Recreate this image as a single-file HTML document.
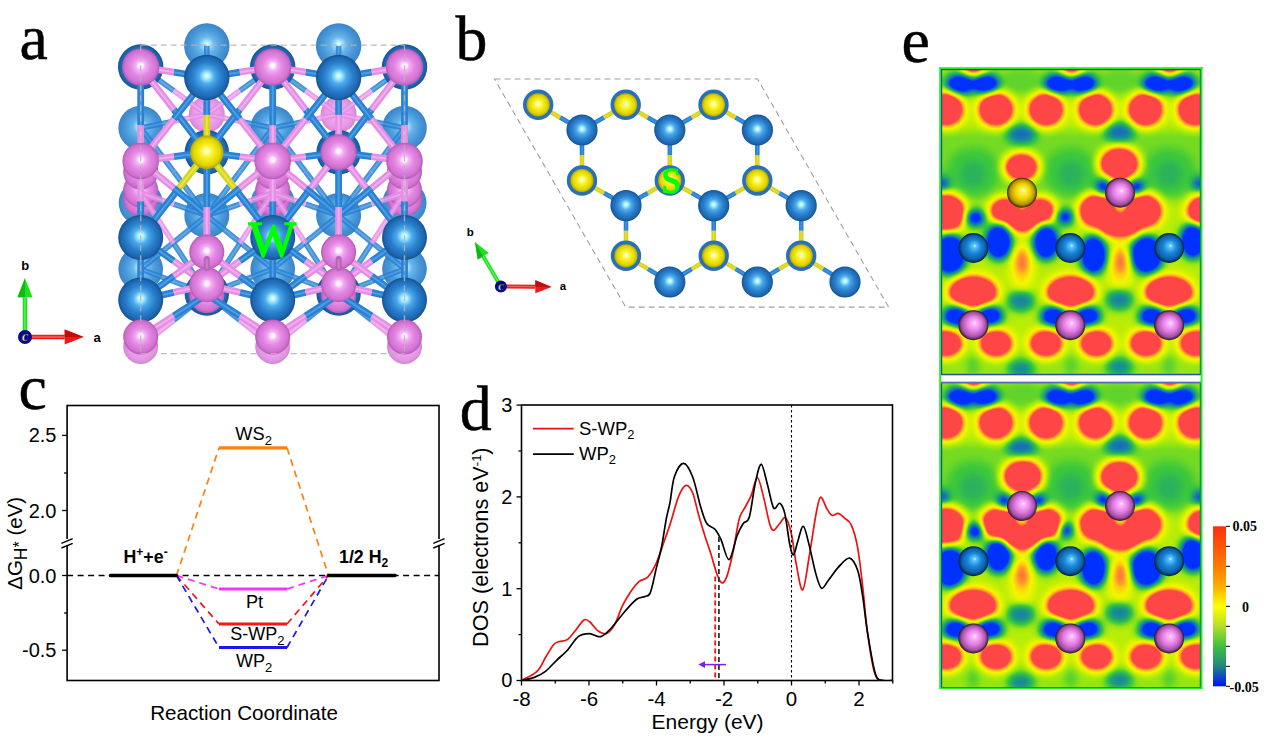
<!DOCTYPE html>
<html><head><meta charset="utf-8"><title>Figure</title>
<style>
html,body{margin:0;padding:0;background:#fff;width:1268px;height:741px;overflow:hidden;}
svg{display:block;}
</style></head><body>
<svg width="1268" height="741" viewBox="0 0 1268 741" font-family='"Liberation Sans", sans-serif'>
<defs><radialGradient id="gB" cx="0.5" cy="0.5" r="0.5" fx="0.50" fy="0.46"><stop offset="0.00" stop-color="#f4ffff"/><stop offset="0.13" stop-color="#aaf0ff"/><stop offset="0.34" stop-color="#4caaec"/><stop offset="0.62" stop-color="#2a80cc"/><stop offset="0.88" stop-color="#1d66b0"/><stop offset="1.00" stop-color="#14518e"/></radialGradient><radialGradient id="gBb" cx="0.5" cy="0.5" r="0.5" fx="0.50" fy="0.46"><stop offset="0.00" stop-color="#f0ffff"/><stop offset="0.12" stop-color="#b4ecff"/><stop offset="0.35" stop-color="#6ab6ec"/><stop offset="0.70" stop-color="#4898d8"/><stop offset="1.00" stop-color="#3a84c8"/></radialGradient><radialGradient id="gP" cx="0.5" cy="0.5" r="0.5" fx="0.50" fy="0.46"><stop offset="0.00" stop-color="#ffffff"/><stop offset="0.11" stop-color="#fff2ff"/><stop offset="0.26" stop-color="#f4b0f4"/><stop offset="0.52" stop-color="#e488e4"/><stop offset="0.85" stop-color="#d272d2"/><stop offset="1.00" stop-color="#b45ab4"/></radialGradient><radialGradient id="gPb" cx="0.5" cy="0.5" r="0.5" fx="0.50" fy="0.46"><stop offset="0.00" stop-color="#ffffff"/><stop offset="0.14" stop-color="#fde6fd"/><stop offset="0.40" stop-color="#f0a8f0"/><stop offset="0.80" stop-color="#e496e4"/><stop offset="1.00" stop-color="#d286d2"/></radialGradient><radialGradient id="gY" cx="0.5" cy="0.5" r="0.5" fx="0.50" fy="0.46"><stop offset="0.00" stop-color="#ffffff"/><stop offset="0.12" stop-color="#ffffa8"/><stop offset="0.40" stop-color="#f8f022"/><stop offset="0.80" stop-color="#e0d400"/><stop offset="1.00" stop-color="#b4a600"/></radialGradient><radialGradient id="mB" cx="0.5" cy="0.5" r="0.5" fx="0.55" fy="0.42"><stop offset="0.00" stop-color="#e8ffff"/><stop offset="0.10" stop-color="#60c8ff"/><stop offset="0.45" stop-color="#1a86d8"/><stop offset="0.80" stop-color="#0c5ea8"/><stop offset="1.00" stop-color="#02203a"/></radialGradient><radialGradient id="mP" cx="0.5" cy="0.5" r="0.5" fx="0.55" fy="0.42"><stop offset="0.00" stop-color="#ffffff"/><stop offset="0.12" stop-color="#ffb8ff"/><stop offset="0.50" stop-color="#e47ce4"/><stop offset="0.82" stop-color="#a050a0"/><stop offset="1.00" stop-color="#301030"/></radialGradient><radialGradient id="mY" cx="0.5" cy="0.5" r="0.5" fx="0.55" fy="0.42"><stop offset="0.00" stop-color="#ffffe8"/><stop offset="0.12" stop-color="#fff460"/><stop offset="0.50" stop-color="#f0d400"/><stop offset="0.82" stop-color="#b49400"/><stop offset="1.00" stop-color="#302600"/></radialGradient></defs><text x="19.4" y="58.5" font-family='"Liberation Serif", serif' font-size="63.8" fill="#000" stroke="#000" stroke-width="0.5">a</text><text x="455.6" y="59.5" font-family='"Liberation Serif", serif' font-size="63.8" fill="#000" stroke="#000" stroke-width="0.5">b</text><text x="18.6" y="409.3" font-family='"Liberation Serif", serif' font-size="63.8" fill="#000" stroke="#000" stroke-width="0.5">c</text><text x="459.8" y="429.5" font-family='"Liberation Serif", serif' font-size="63.8" fill="#000" stroke="#000" stroke-width="0.5">d</text><text x="901.6" y="61.7" font-family='"Liberation Serif", serif' font-size="63.8" fill="#000" stroke="#000" stroke-width="0.5">e</text><rect x="67.1" y="405.5" width="371.9" height="275.0" fill="none" stroke="#000" stroke-width="1.6"/><rect x="64.1" y="539" width="6" height="7" fill="#fff"/><line x1="61.39999999999999" y1="543.4" x2="72.69999999999999" y2="538.7" stroke="#000" stroke-width="1.4"/><line x1="61.39999999999999" y1="548.0" x2="72.69999999999999" y2="543.4" stroke="#000" stroke-width="1.4"/><rect x="436" y="539" width="6" height="7" fill="#fff"/><line x1="433.3" y1="543.4" x2="444.6" y2="538.7" stroke="#000" stroke-width="1.4"/><line x1="433.3" y1="548.0" x2="444.6" y2="543.4" stroke="#000" stroke-width="1.4"/><line x1="62.099999999999994" y1="435.4" x2="67.1" y2="435.4" stroke="#000" stroke-width="1.3"/><text x="56.5" y="442.4" text-anchor="end" font-family='"Liberation Sans", sans-serif' font-size="20" fill="#000">2.5</text><line x1="62.099999999999994" y1="510.5" x2="67.1" y2="510.5" stroke="#000" stroke-width="1.3"/><text x="56.5" y="517.5" text-anchor="end" font-family='"Liberation Sans", sans-serif' font-size="20" fill="#000">2.0</text><line x1="62.099999999999994" y1="575.5" x2="67.1" y2="575.5" stroke="#000" stroke-width="1.3"/><text x="56.5" y="582.5" text-anchor="end" font-family='"Liberation Sans", sans-serif' font-size="20" fill="#000">0.0</text><line x1="62.099999999999994" y1="650.2" x2="67.1" y2="650.2" stroke="#000" stroke-width="1.3"/><text x="56.5" y="657.2" text-anchor="end" font-family='"Liberation Sans", sans-serif' font-size="20" fill="#000">-0.5</text><line x1="64.1" y1="473.0" x2="67.1" y2="473.0" stroke="#000" stroke-width="1.3"/><line x1="64.1" y1="613.0" x2="67.1" y2="613.0" stroke="#000" stroke-width="1.3"/><line x1="67.1" y1="575.5" x2="439" y2="575.5" stroke="#000" stroke-width="1.3" stroke-dasharray="6,4.5"/><path d="M176.5,575.5 L219,447.8 M287,447.8 L328.5,575.5" fill="none" stroke="#ff8010" stroke-width="1.7" stroke-dasharray="7,5"/><line x1="219" y1="447.8" x2="287" y2="447.8" stroke="#ff8010" stroke-width="3.2"/><path d="M176.5,575.5 L219,589.0 M287,589.0 L328.5,575.5" fill="none" stroke="#f535f5" stroke-width="1.7" stroke-dasharray="7,5"/><line x1="219" y1="589.0" x2="287" y2="589.0" stroke="#f535f5" stroke-width="3.2"/><path d="M176.5,575.5 L219,624.0 M287,624.0 L328.5,575.5" fill="none" stroke="#f01818" stroke-width="1.7" stroke-dasharray="7,5"/><line x1="219" y1="624.0" x2="287" y2="624.0" stroke="#f01818" stroke-width="3.2"/><path d="M176.5,575.5 L219,647.5 M287,647.5 L328.5,575.5" fill="none" stroke="#1818f0" stroke-width="1.7" stroke-dasharray="7,5"/><line x1="219" y1="647.5" x2="287" y2="647.5" stroke="#1818f0" stroke-width="3.2"/><line x1="110.5" y1="575.5" x2="176.5" y2="575.5" stroke="#000" stroke-width="3.4" stroke-linecap="round"/><line x1="328.5" y1="575.5" x2="395" y2="575.5" stroke="#000" stroke-width="3.4" stroke-linecap="round"/><text x="253.6" y="440" text-anchor="middle" font-family='"Liberation Sans", sans-serif' font-size="18.2">WS<tspan font-size="13" dy="4.5">2</tspan></text><text x="254.5" y="607.5" text-anchor="middle" font-family='"Liberation Sans", sans-serif' font-size="18.2">Pt</text><text x="257.3" y="639.6" text-anchor="middle" font-family='"Liberation Sans", sans-serif' font-size="18">S-WP<tspan font-size="13" dy="5">2</tspan></text><text x="254.2" y="667.4" text-anchor="middle" font-family='"Liberation Sans", sans-serif' font-size="18">WP<tspan font-size="13" dy="5">2</tspan></text><text x="123.5" y="563.3" font-family='"Liberation Sans", sans-serif' font-size="17.8" font-weight="bold">H<tspan font-size="12" dy="-7">+</tspan><tspan dy="7">+e</tspan><tspan font-size="12" dy="-7">-</tspan></text><text x="339" y="562.5" font-family='"Liberation Sans", sans-serif' font-size="17.8" font-weight="bold">1/2 H<tspan font-size="12" dy="4">2</tspan></text><text x="244" y="719.5" text-anchor="middle" font-family='"Liberation Sans", sans-serif' font-size="20.6">Reaction Coordinate</text><text transform="translate(22,543.3) rotate(-90)" text-anchor="middle" font-family='"Liberation Sans", sans-serif' font-size="20.5">&#916;G<tspan font-size="17.5" dy="5">H</tspan><tspan font-size="16" dy="-2">*</tspan><tspan dy="-3"> (eV)</tspan></text><rect x="521.5" y="405.0" width="371.0" height="275.5" fill="none" stroke="#000" stroke-width="1.6"/><line x1="521.50" y1="680.5" x2="521.50" y2="685.5" stroke="#000" stroke-width="1.3"/><text x="521.50" y="706.4" text-anchor="middle" font-family='"Liberation Sans", sans-serif' font-size="20.5">-8</text><line x1="555.25" y1="680.5" x2="555.25" y2="683.5" stroke="#000" stroke-width="1.3"/><line x1="589.00" y1="680.5" x2="589.00" y2="685.5" stroke="#000" stroke-width="1.3"/><text x="589.00" y="706.4" text-anchor="middle" font-family='"Liberation Sans", sans-serif' font-size="20.5">-6</text><line x1="622.75" y1="680.5" x2="622.75" y2="683.5" stroke="#000" stroke-width="1.3"/><line x1="656.50" y1="680.5" x2="656.50" y2="685.5" stroke="#000" stroke-width="1.3"/><text x="656.50" y="706.4" text-anchor="middle" font-family='"Liberation Sans", sans-serif' font-size="20.5">-4</text><line x1="690.25" y1="680.5" x2="690.25" y2="683.5" stroke="#000" stroke-width="1.3"/><line x1="724.00" y1="680.5" x2="724.00" y2="685.5" stroke="#000" stroke-width="1.3"/><text x="724.00" y="706.4" text-anchor="middle" font-family='"Liberation Sans", sans-serif' font-size="20.5">-2</text><line x1="757.75" y1="680.5" x2="757.75" y2="683.5" stroke="#000" stroke-width="1.3"/><line x1="791.50" y1="680.5" x2="791.50" y2="685.5" stroke="#000" stroke-width="1.3"/><text x="791.50" y="706.4" text-anchor="middle" font-family='"Liberation Sans", sans-serif' font-size="20.5">0</text><line x1="825.25" y1="680.5" x2="825.25" y2="683.5" stroke="#000" stroke-width="1.3"/><line x1="859.00" y1="680.5" x2="859.00" y2="685.5" stroke="#000" stroke-width="1.3"/><text x="859.00" y="706.4" text-anchor="middle" font-family='"Liberation Sans", sans-serif' font-size="20.5">2</text><line x1="892.75" y1="680.5" x2="892.75" y2="683.5" stroke="#000" stroke-width="1.3"/><line x1="516.5" y1="680.50" x2="521.5" y2="680.50" stroke="#000" stroke-width="1.3"/><text x="512.3" y="687.30" text-anchor="end" font-family='"Liberation Sans", sans-serif' font-size="20">0</text><line x1="518.5" y1="634.60" x2="521.5" y2="634.60" stroke="#000" stroke-width="1.3"/><line x1="516.5" y1="588.70" x2="521.5" y2="588.70" stroke="#000" stroke-width="1.3"/><text x="512.3" y="595.50" text-anchor="end" font-family='"Liberation Sans", sans-serif' font-size="20">1</text><line x1="518.5" y1="542.80" x2="521.5" y2="542.80" stroke="#000" stroke-width="1.3"/><line x1="516.5" y1="496.90" x2="521.5" y2="496.90" stroke="#000" stroke-width="1.3"/><text x="512.3" y="503.70" text-anchor="end" font-family='"Liberation Sans", sans-serif' font-size="20">2</text><line x1="518.5" y1="451.00" x2="521.5" y2="451.00" stroke="#000" stroke-width="1.3"/><line x1="516.5" y1="405.10" x2="521.5" y2="405.10" stroke="#000" stroke-width="1.3"/><text x="512.3" y="411.90" text-anchor="end" font-family='"Liberation Sans", sans-serif' font-size="20">3</text><defs><clipPath id="dclip"><rect x="521.5" y="405.0" width="371.0" height="276.0"/></clipPath></defs><g clip-path="url(#dclip)"><path d="M521.50,680.50 C524.09,678.97 533.03,675.15 537.02,671.32 C541.02,667.50 542.71,661.99 545.46,657.55 C548.22,653.11 551.26,647.38 553.56,644.70 C555.87,642.02 556.99,642.33 559.30,641.49 C561.61,640.64 564.64,641.56 567.40,639.65 C570.16,637.74 573.08,633.30 575.84,630.01 C578.59,626.72 581.63,621.29 583.94,619.91 C586.24,618.54 587.31,619.91 589.67,621.75 C592.04,623.58 595.36,628.94 598.11,630.93 C600.87,632.92 603.46,634.75 606.21,633.68 C608.97,632.61 611.89,629.24 614.65,624.50 C617.41,619.76 619.99,610.81 622.75,605.22 C625.51,599.64 628.43,594.97 631.19,591.00 C633.94,587.02 636.53,583.67 639.29,581.36 C642.04,579.05 644.91,580.13 647.73,577.13 C650.54,574.13 653.41,569.39 656.16,563.36 C658.92,557.34 661.90,547.60 664.26,540.96 C666.62,534.32 667.98,530.87 670.34,523.52 C672.70,516.18 675.85,503.25 678.44,496.90 C681.02,490.55 683.50,486.11 685.86,485.43 C688.22,484.74 690.47,487.80 692.61,492.77 C694.75,497.74 696.66,508.15 698.69,515.26 C700.71,522.37 702.74,529.03 704.76,535.46 C706.79,541.88 708.81,547.39 710.84,553.82 C712.86,560.24 715.06,569.16 716.91,574.01 C718.77,578.86 720.29,582.61 721.98,582.92 C723.66,583.22 725.18,581.08 727.04,575.85 C728.89,570.62 731.09,561.01 733.11,551.52 C735.14,542.03 737.16,526.35 739.19,518.93 C741.21,511.51 743.24,510.98 745.26,507.00 C747.29,503.02 749.31,499.96 751.34,495.06 C753.36,490.17 755.39,477.32 757.41,477.62 C759.44,477.93 761.46,489.25 763.49,496.90 C765.51,504.55 767.88,517.95 769.56,523.52 C771.25,529.09 771.92,530.32 773.61,530.32 C775.30,530.32 777.66,525.57 779.69,523.52 C781.71,521.47 783.79,516.18 785.76,518.01 C787.73,519.85 789.76,526.89 791.50,534.54 C793.24,542.19 794.37,554.69 796.23,563.91 C798.08,573.14 800.50,590.96 802.64,589.89 C804.78,588.82 806.86,569.93 809.05,557.49 C811.24,545.05 813.89,525.30 815.80,515.26 C817.71,505.22 818.67,498.34 820.52,497.27 C822.38,496.20 825.02,505.84 826.94,508.83 C828.85,511.83 830.09,514.50 832.00,515.26 C833.91,516.02 836.27,512.90 838.41,513.42 C840.55,513.94 842.69,516.47 844.83,518.38 C846.96,520.29 849.10,520.03 851.24,524.90 C853.38,529.76 855.74,537.25 857.65,547.57 C859.56,557.90 861.08,572.79 862.71,586.86 C864.34,600.94 865.52,617.95 867.44,632.03 C869.35,646.11 871.99,663.24 874.19,671.32 C876.38,679.40 877.51,678.97 880.60,680.50 C883.69,682.03 890.73,680.50 892.75,680.50" fill="none" stroke="#ee1111" stroke-width="1.7"/><path d="M521.50,680.50 C523.64,679.98 530.33,678.91 534.33,677.38 C538.32,675.85 541.75,674.17 545.46,671.32 C549.17,668.47 552.94,663.82 556.60,660.30 C560.26,656.78 563.74,654.18 567.40,650.21 C571.06,646.23 574.83,639.19 578.54,636.44 C582.25,633.68 585.96,633.65 589.67,633.68 C593.39,633.71 597.10,637.69 600.81,636.62 C604.52,635.55 607.84,631.57 611.95,627.26 C616.06,622.94 621.34,615.40 625.45,610.73 C629.56,606.07 633.33,601.63 636.59,599.26 C639.85,596.89 642.72,597.65 645.02,596.50 C647.33,595.36 648.57,596.98 650.42,592.37 C652.28,587.77 654.31,576.48 656.16,568.87 C658.02,561.27 659.88,555.07 661.56,546.75 C663.25,538.42 664.88,526.32 666.29,518.93 C667.69,511.54 668.65,509.45 670.00,502.41 C671.35,495.37 672.14,483.21 674.39,476.70 C676.64,470.20 680.46,463.39 683.50,463.39 C686.54,463.39 689.74,469.44 692.61,476.70 C695.48,483.97 698.35,499.20 700.71,507.00 C703.08,514.80 704.42,519.82 706.79,523.52 C709.15,527.22 712.53,526.57 714.89,529.21 C717.25,531.86 718.60,534.34 720.96,539.40 C723.32,544.47 726.36,560.26 729.06,559.60 C731.76,558.94 734.80,541.47 737.16,535.46 C739.52,529.44 741.21,526.58 743.24,523.52 C745.26,520.46 747.29,523.90 749.31,517.10 C751.34,510.29 753.39,491.45 755.39,482.67 C757.38,473.89 759.27,464.02 761.29,464.40 C763.32,464.79 765.48,477.71 767.54,484.97 C769.59,492.22 771.59,504.86 773.61,507.92 C775.64,510.98 777.83,502.41 779.69,503.33 C781.54,504.24 783.06,506.54 784.75,513.42 C786.44,520.31 788.35,537.75 789.81,544.64 C791.27,551.52 792.17,555.35 793.52,554.73 C794.88,554.12 796.28,545.71 797.91,540.96 C799.54,536.22 801.46,525.66 803.31,526.28 C805.17,526.89 806.97,536.74 809.05,544.64 C811.13,552.53 813.72,566.38 815.80,573.64 C817.88,580.91 819.40,587.17 821.54,588.24 C823.68,589.31 825.81,583.59 828.62,580.07 C831.44,576.55 834.93,570.80 838.41,567.13 C841.90,563.45 846.34,557.50 849.55,558.04 C852.76,558.57 855.46,563.94 857.65,570.34 C859.84,576.74 861.08,586.13 862.71,596.41 C864.34,606.69 865.30,619.06 867.44,632.03 C869.58,645.00 872.84,666.18 875.54,674.26 C878.24,682.34 880.77,679.46 883.64,680.50 C886.51,681.54 891.23,680.50 892.75,680.50" fill="none" stroke="#000" stroke-width="1.7"/></g><line x1="791.5" y1="405.0" x2="791.5" y2="680.5" stroke="#000" stroke-width="1.1" stroke-dasharray="2.5,2.5"/><line x1="715.2" y1="576.5" x2="715.2" y2="680.5" stroke="#ee1111" stroke-width="1.8" stroke-dasharray="5,3"/><line x1="718.9" y1="537" x2="718.9" y2="680.5" stroke="#333" stroke-width="1.8" stroke-dasharray="5,3"/><line x1="703" y1="664.6" x2="726" y2="664.6" stroke="#8020f0" stroke-width="1.5"/><path d="M698.3,664.6 L705,661.3 L705,667.9 Z" fill="#8020f0"/><line x1="533" y1="428.7" x2="573.7" y2="428.7" stroke="#ee1111" stroke-width="1.7"/><line x1="533" y1="454.2" x2="573.7" y2="454.2" stroke="#000" stroke-width="1.7"/><text x="579" y="434.8" font-family='"Liberation Sans", sans-serif' font-size="18.5">S-WP<tspan font-size="13" dy="4">2</tspan></text><text x="579" y="460.3" font-family='"Liberation Sans", sans-serif' font-size="18.5">WP<tspan font-size="13" dy="4">2</tspan></text><text x="707.6" y="729.3" text-anchor="middle" font-family='"Liberation Sans", sans-serif' font-size="21">Energy (eV)</text><text transform="translate(488,547.2) rotate(-90)" text-anchor="middle" font-family='"Liberation Sans", sans-serif' font-size="21.7">DOS (electrons eV<tspan font-size="13" dy="-7">-1</tspan><tspan dy="7">)</tspan></text><path d="M494.5,79 L757.5,79 L888.6,307.1 L625.7,307.1 Z" fill="none" stroke="#a0a0a0" stroke-width="1.1" stroke-dasharray="6,4"/><g><line x1="538.2" y1="104.8" x2="560.1" y2="117.4" stroke="#d8d41c" stroke-width="4.6"/><line x1="560.1" y1="117.4" x2="582.0" y2="130.0" stroke="#2a80d2" stroke-width="4.6"/><g opacity="0.35"><line x1="538.2" y1="104.8" x2="560.1" y2="117.4" stroke="#f4f070" stroke-width="1.4"/><line x1="560.1" y1="117.4" x2="582.0" y2="130.0" stroke="#66b8f2" stroke-width="1.4"/></g></g><g><line x1="625.7" y1="104.8" x2="603.9" y2="117.4" stroke="#d8d41c" stroke-width="4.6"/><line x1="603.9" y1="117.4" x2="582.0" y2="130.0" stroke="#2a80d2" stroke-width="4.6"/><g opacity="0.35"><line x1="625.7" y1="104.8" x2="603.9" y2="117.4" stroke="#f4f070" stroke-width="1.4"/><line x1="603.9" y1="117.4" x2="582.0" y2="130.0" stroke="#66b8f2" stroke-width="1.4"/></g></g><g><line x1="625.7" y1="104.8" x2="647.8" y2="117.4" stroke="#d8d41c" stroke-width="4.6"/><line x1="647.8" y1="117.4" x2="669.8" y2="130.0" stroke="#2a80d2" stroke-width="4.6"/><g opacity="0.35"><line x1="625.7" y1="104.8" x2="647.8" y2="117.4" stroke="#f4f070" stroke-width="1.4"/><line x1="647.8" y1="117.4" x2="669.8" y2="130.0" stroke="#66b8f2" stroke-width="1.4"/></g></g><g><line x1="713.5" y1="104.8" x2="691.6" y2="117.4" stroke="#d8d41c" stroke-width="4.6"/><line x1="691.6" y1="117.4" x2="669.8" y2="130.0" stroke="#2a80d2" stroke-width="4.6"/><g opacity="0.35"><line x1="713.5" y1="104.8" x2="691.6" y2="117.4" stroke="#f4f070" stroke-width="1.4"/><line x1="691.6" y1="117.4" x2="669.8" y2="130.0" stroke="#66b8f2" stroke-width="1.4"/></g></g><g><line x1="713.5" y1="104.8" x2="735.5" y2="117.4" stroke="#d8d41c" stroke-width="4.6"/><line x1="735.5" y1="117.4" x2="757.4" y2="130.0" stroke="#2a80d2" stroke-width="4.6"/><g opacity="0.35"><line x1="713.5" y1="104.8" x2="735.5" y2="117.4" stroke="#f4f070" stroke-width="1.4"/><line x1="735.5" y1="117.4" x2="757.4" y2="130.0" stroke="#66b8f2" stroke-width="1.4"/></g></g><g><line x1="582.0" y1="180.5" x2="582.0" y2="155.2" stroke="#d8d41c" stroke-width="4.6"/><line x1="582.0" y1="155.2" x2="582.0" y2="130.0" stroke="#2a80d2" stroke-width="4.6"/><g opacity="0.35"><line x1="582.0" y1="180.5" x2="582.0" y2="155.2" stroke="#f4f070" stroke-width="1.4"/><line x1="582.0" y1="155.2" x2="582.0" y2="130.0" stroke="#66b8f2" stroke-width="1.4"/></g></g><g><line x1="582.0" y1="180.5" x2="604.0" y2="193.1" stroke="#d8d41c" stroke-width="4.6"/><line x1="604.0" y1="193.1" x2="626.0" y2="205.6" stroke="#2a80d2" stroke-width="4.6"/><g opacity="0.35"><line x1="582.0" y1="180.5" x2="604.0" y2="193.1" stroke="#f4f070" stroke-width="1.4"/><line x1="604.0" y1="193.1" x2="626.0" y2="205.6" stroke="#66b8f2" stroke-width="1.4"/></g></g><g><line x1="669.8" y1="180.5" x2="669.8" y2="155.2" stroke="#d8d41c" stroke-width="4.6"/><line x1="669.8" y1="155.2" x2="669.8" y2="130.0" stroke="#2a80d2" stroke-width="4.6"/><g opacity="0.35"><line x1="669.8" y1="180.5" x2="669.8" y2="155.2" stroke="#f4f070" stroke-width="1.4"/><line x1="669.8" y1="155.2" x2="669.8" y2="130.0" stroke="#66b8f2" stroke-width="1.4"/></g></g><g><line x1="669.8" y1="180.5" x2="647.9" y2="193.1" stroke="#d8d41c" stroke-width="4.6"/><line x1="647.9" y1="193.1" x2="626.0" y2="205.6" stroke="#2a80d2" stroke-width="4.6"/><g opacity="0.35"><line x1="669.8" y1="180.5" x2="647.9" y2="193.1" stroke="#f4f070" stroke-width="1.4"/><line x1="647.9" y1="193.1" x2="626.0" y2="205.6" stroke="#66b8f2" stroke-width="1.4"/></g></g><g><line x1="669.8" y1="180.5" x2="691.8" y2="193.1" stroke="#d8d41c" stroke-width="4.6"/><line x1="691.8" y1="193.1" x2="713.7" y2="205.6" stroke="#2a80d2" stroke-width="4.6"/><g opacity="0.35"><line x1="669.8" y1="180.5" x2="691.8" y2="193.1" stroke="#f4f070" stroke-width="1.4"/><line x1="691.8" y1="193.1" x2="713.7" y2="205.6" stroke="#66b8f2" stroke-width="1.4"/></g></g><g><line x1="757.3" y1="180.5" x2="757.3" y2="155.2" stroke="#d8d41c" stroke-width="4.6"/><line x1="757.3" y1="155.2" x2="757.4" y2="130.0" stroke="#2a80d2" stroke-width="4.6"/><g opacity="0.35"><line x1="757.3" y1="180.5" x2="757.3" y2="155.2" stroke="#f4f070" stroke-width="1.4"/><line x1="757.3" y1="155.2" x2="757.4" y2="130.0" stroke="#66b8f2" stroke-width="1.4"/></g></g><g><line x1="757.3" y1="180.5" x2="735.5" y2="193.1" stroke="#d8d41c" stroke-width="4.6"/><line x1="735.5" y1="193.1" x2="713.7" y2="205.6" stroke="#2a80d2" stroke-width="4.6"/><g opacity="0.35"><line x1="757.3" y1="180.5" x2="735.5" y2="193.1" stroke="#f4f070" stroke-width="1.4"/><line x1="735.5" y1="193.1" x2="713.7" y2="205.6" stroke="#66b8f2" stroke-width="1.4"/></g></g><g><line x1="757.3" y1="180.5" x2="779.2" y2="193.1" stroke="#d8d41c" stroke-width="4.6"/><line x1="779.2" y1="193.1" x2="801.2" y2="205.6" stroke="#2a80d2" stroke-width="4.6"/><g opacity="0.35"><line x1="757.3" y1="180.5" x2="779.2" y2="193.1" stroke="#f4f070" stroke-width="1.4"/><line x1="779.2" y1="193.1" x2="801.2" y2="205.6" stroke="#66b8f2" stroke-width="1.4"/></g></g><g><line x1="626.0" y1="255.8" x2="626.0" y2="230.7" stroke="#d8d41c" stroke-width="4.6"/><line x1="626.0" y1="230.7" x2="626.0" y2="205.6" stroke="#2a80d2" stroke-width="4.6"/><g opacity="0.35"><line x1="626.0" y1="255.8" x2="626.0" y2="230.7" stroke="#f4f070" stroke-width="1.4"/><line x1="626.0" y1="230.7" x2="626.0" y2="205.6" stroke="#66b8f2" stroke-width="1.4"/></g></g><g><line x1="626.0" y1="255.8" x2="647.9" y2="268.9" stroke="#d8d41c" stroke-width="4.6"/><line x1="647.9" y1="268.9" x2="669.8" y2="282.0" stroke="#2a80d2" stroke-width="4.6"/><g opacity="0.35"><line x1="626.0" y1="255.8" x2="647.9" y2="268.9" stroke="#f4f070" stroke-width="1.4"/><line x1="647.9" y1="268.9" x2="669.8" y2="282.0" stroke="#66b8f2" stroke-width="1.4"/></g></g><g><line x1="713.7" y1="255.8" x2="713.7" y2="230.7" stroke="#d8d41c" stroke-width="4.6"/><line x1="713.7" y1="230.7" x2="713.7" y2="205.6" stroke="#2a80d2" stroke-width="4.6"/><g opacity="0.35"><line x1="713.7" y1="255.8" x2="713.7" y2="230.7" stroke="#f4f070" stroke-width="1.4"/><line x1="713.7" y1="230.7" x2="713.7" y2="205.6" stroke="#66b8f2" stroke-width="1.4"/></g></g><g><line x1="713.7" y1="255.8" x2="691.8" y2="268.9" stroke="#d8d41c" stroke-width="4.6"/><line x1="691.8" y1="268.9" x2="669.8" y2="282.0" stroke="#2a80d2" stroke-width="4.6"/><g opacity="0.35"><line x1="713.7" y1="255.8" x2="691.8" y2="268.9" stroke="#f4f070" stroke-width="1.4"/><line x1="691.8" y1="268.9" x2="669.8" y2="282.0" stroke="#66b8f2" stroke-width="1.4"/></g></g><g><line x1="713.7" y1="255.8" x2="735.5" y2="268.9" stroke="#d8d41c" stroke-width="4.6"/><line x1="735.5" y1="268.9" x2="757.3" y2="282.0" stroke="#2a80d2" stroke-width="4.6"/><g opacity="0.35"><line x1="713.7" y1="255.8" x2="735.5" y2="268.9" stroke="#f4f070" stroke-width="1.4"/><line x1="735.5" y1="268.9" x2="757.3" y2="282.0" stroke="#66b8f2" stroke-width="1.4"/></g></g><g><line x1="801.2" y1="255.8" x2="801.2" y2="230.7" stroke="#d8d41c" stroke-width="4.6"/><line x1="801.2" y1="230.7" x2="801.2" y2="205.6" stroke="#2a80d2" stroke-width="4.6"/><g opacity="0.35"><line x1="801.2" y1="255.8" x2="801.2" y2="230.7" stroke="#f4f070" stroke-width="1.4"/><line x1="801.2" y1="230.7" x2="801.2" y2="205.6" stroke="#66b8f2" stroke-width="1.4"/></g></g><g><line x1="801.2" y1="255.8" x2="779.2" y2="268.9" stroke="#d8d41c" stroke-width="4.6"/><line x1="779.2" y1="268.9" x2="757.3" y2="282.0" stroke="#2a80d2" stroke-width="4.6"/><g opacity="0.35"><line x1="801.2" y1="255.8" x2="779.2" y2="268.9" stroke="#f4f070" stroke-width="1.4"/><line x1="779.2" y1="268.9" x2="757.3" y2="282.0" stroke="#66b8f2" stroke-width="1.4"/></g></g><g><line x1="801.2" y1="255.8" x2="823.1" y2="268.9" stroke="#d8d41c" stroke-width="4.6"/><line x1="823.1" y1="268.9" x2="845.0" y2="282.0" stroke="#2a80d2" stroke-width="4.6"/><g opacity="0.35"><line x1="801.2" y1="255.8" x2="823.1" y2="268.9" stroke="#f4f070" stroke-width="1.4"/><line x1="823.1" y1="268.9" x2="845.0" y2="282.0" stroke="#66b8f2" stroke-width="1.4"/></g></g><circle cx="582.0" cy="130.0" r="15.6" fill="url(#gB)"/><circle cx="669.8" cy="130.0" r="15.6" fill="url(#gB)"/><circle cx="757.4" cy="130.0" r="15.6" fill="url(#gB)"/><circle cx="626.0" cy="205.6" r="15.6" fill="url(#gB)"/><circle cx="713.7" cy="205.6" r="15.6" fill="url(#gB)"/><circle cx="801.2" cy="205.6" r="15.6" fill="url(#gB)"/><circle cx="669.8" cy="282.0" r="15.6" fill="url(#gB)"/><circle cx="757.3" cy="282.0" r="15.6" fill="url(#gB)"/><circle cx="845.0" cy="282.0" r="15.6" fill="url(#gB)"/><circle cx="538.2" cy="104.8" r="15.2" fill="#2a70b6"/><circle cx="538.2" cy="104.8" r="11.6" fill="url(#gY)"/><circle cx="625.7" cy="104.8" r="15.2" fill="#2a70b6"/><circle cx="625.7" cy="104.8" r="11.6" fill="url(#gY)"/><circle cx="713.5" cy="104.8" r="15.2" fill="#2a70b6"/><circle cx="713.5" cy="104.8" r="11.6" fill="url(#gY)"/><circle cx="582.0" cy="180.5" r="15.2" fill="#2a70b6"/><circle cx="582.0" cy="180.5" r="11.6" fill="url(#gY)"/><circle cx="669.8" cy="180.5" r="15.2" fill="#2a70b6"/><circle cx="669.8" cy="180.5" r="11.6" fill="url(#gY)"/><circle cx="757.3" cy="180.5" r="15.2" fill="#2a70b6"/><circle cx="757.3" cy="180.5" r="11.6" fill="url(#gY)"/><circle cx="626.0" cy="255.8" r="15.2" fill="#2a70b6"/><circle cx="626.0" cy="255.8" r="11.6" fill="url(#gY)"/><circle cx="713.7" cy="255.8" r="15.2" fill="#2a70b6"/><circle cx="713.7" cy="255.8" r="11.6" fill="url(#gY)"/><circle cx="801.2" cy="255.8" r="15.2" fill="#2a70b6"/><circle cx="801.2" cy="255.8" r="11.6" fill="url(#gY)"/><text x="671" y="192.5" text-anchor="middle" font-family='"Liberation Serif", serif' font-size="35" fill="#00ff00" stroke="#00ff00" stroke-width="1.4">S</text><line x1="500.9" y1="286.4" x2="483.2" y2="256.2" stroke="#1ee01e" stroke-width="3.9"/><line x1="500.9" y1="286.4" x2="483.2" y2="256.2" stroke="#b0ffb0" stroke-width="1.2" opacity="0.45"/><path d="M475.0,242.1 L488.8,252.9 L477.7,259.4 Z" fill="#1ee01e"/><path d="M475.0,242.1 L483.2,256.2 L477.7,259.4 Z" fill="#12b812"/><line x1="500.9" y1="286.4" x2="535.3" y2="286.7" stroke="#ee1a1a" stroke-width="3.9"/><line x1="500.9" y1="286.4" x2="535.3" y2="286.7" stroke="#ffb0b0" stroke-width="1.2" opacity="0.45"/><path d="M551.6,286.9 L535.3,293.2 L535.4,280.3 Z" fill="#ee1a1a"/><path d="M551.6,286.9 L535.3,286.7 L535.4,280.3 Z" fill="#c40a0a"/><circle cx="500.9" cy="286.4" r="6.0" fill="#0a0a8a"/><text x="500.9" y="289.7" text-anchor="middle" font-family='"Liberation Serif", serif' font-style="italic" font-weight="bold" font-size="12.0" fill="#fff" stroke="#000" stroke-width="0.4">c</text><text x="470.3" y="236.2" text-anchor="middle" font-family='"Liberation Sans", sans-serif' font-weight="bold" font-size="11.5">b</text><text x="563.0" y="290.1" text-anchor="middle" font-family='"Liberation Sans", sans-serif' font-weight="bold" font-size="11.5">a</text><circle cx="206.8" cy="45.9" r="22.7" fill="url(#gBb)"/><circle cx="338.6" cy="45.9" r="22.7" fill="url(#gBb)"/><circle cx="140.7" cy="128.0" r="22.3" fill="url(#gBb)"/><circle cx="272.7" cy="128.0" r="22.3" fill="url(#gBb)"/><circle cx="404.5" cy="128.0" r="22.3" fill="url(#gBb)"/><circle cx="206.8" cy="114.5" r="18.0" fill="url(#gPb)"/><circle cx="338.6" cy="114.5" r="18.0" fill="url(#gPb)"/><circle cx="140.7" cy="203.0" r="22.0" fill="url(#gBb)"/><circle cx="272.7" cy="203.0" r="22.0" fill="url(#gBb)"/><circle cx="404.5" cy="203.0" r="22.0" fill="url(#gBb)"/><circle cx="140.7" cy="199.0" r="17.5" fill="url(#gP)"/><circle cx="140.7" cy="190.0" r="17.5" fill="url(#gP)"/><circle cx="140.7" cy="172.0" r="17.5" fill="url(#gP)"/><circle cx="272.7" cy="199.0" r="17.5" fill="url(#gP)"/><circle cx="272.7" cy="190.0" r="17.5" fill="url(#gP)"/><circle cx="272.7" cy="172.0" r="17.5" fill="url(#gP)"/><circle cx="404.5" cy="199.0" r="17.5" fill="url(#gP)"/><circle cx="404.5" cy="190.0" r="17.5" fill="url(#gP)"/><circle cx="404.5" cy="172.0" r="17.5" fill="url(#gP)"/><circle cx="206.8" cy="215.5" r="22.5" fill="url(#gBb)"/><circle cx="338.6" cy="215.5" r="22.5" fill="url(#gBb)"/><circle cx="140.7" cy="269.0" r="22.3" fill="url(#gBb)"/><circle cx="140.7" cy="346.5" r="17.5" fill="url(#gPb)"/><circle cx="272.7" cy="269.0" r="22.3" fill="url(#gBb)"/><circle cx="272.7" cy="346.5" r="17.5" fill="url(#gPb)"/><circle cx="404.5" cy="269.0" r="22.3" fill="url(#gBb)"/><circle cx="404.5" cy="346.5" r="17.5" fill="url(#gPb)"/><g opacity="0.85"><line x1="140.7" y1="128.0" x2="173.8" y2="121.2" stroke="#2a80d2" stroke-width="5.6"/><line x1="173.8" y1="121.2" x2="206.8" y2="114.5" stroke="#e48ee4" stroke-width="5.6"/><g opacity="0.50"><line x1="140.7" y1="128.0" x2="173.8" y2="121.2" stroke="#66b8f2" stroke-width="1.7"/><line x1="173.8" y1="121.2" x2="206.8" y2="114.5" stroke="#fcc8fc" stroke-width="1.7"/></g></g><g opacity="0.85"><line x1="140.7" y1="67.0" x2="173.8" y2="90.8" stroke="#2a80d2" stroke-width="5.6"/><line x1="173.8" y1="90.8" x2="206.8" y2="114.5" stroke="#e48ee4" stroke-width="5.6"/><g opacity="0.50"><line x1="140.7" y1="67.0" x2="173.8" y2="90.8" stroke="#66b8f2" stroke-width="1.7"/><line x1="173.8" y1="90.8" x2="206.8" y2="114.5" stroke="#fcc8fc" stroke-width="1.7"/></g></g><g opacity="0.85"><line x1="140.7" y1="128.0" x2="173.8" y2="171.8" stroke="#2a80d2" stroke-width="5.6"/><line x1="173.8" y1="171.8" x2="206.8" y2="215.5" stroke="#2a80d2" stroke-width="5.6"/><g opacity="0.50"><line x1="140.7" y1="128.0" x2="173.8" y2="171.8" stroke="#66b8f2" stroke-width="1.7"/><line x1="173.8" y1="171.8" x2="206.8" y2="215.5" stroke="#66b8f2" stroke-width="1.7"/></g></g><g opacity="0.85"><line x1="206.8" y1="215.5" x2="173.8" y2="204.2" stroke="#2a80d2" stroke-width="5.6"/><line x1="173.8" y1="204.2" x2="140.7" y2="193.0" stroke="#e48ee4" stroke-width="5.6"/><g opacity="0.50"><line x1="206.8" y1="215.5" x2="173.8" y2="204.2" stroke="#66b8f2" stroke-width="1.7"/><line x1="173.8" y1="204.2" x2="140.7" y2="193.0" stroke="#fcc8fc" stroke-width="1.7"/></g></g><g opacity="0.85"><line x1="206.8" y1="215.5" x2="173.8" y2="242.2" stroke="#2a80d2" stroke-width="5.6"/><line x1="173.8" y1="242.2" x2="140.7" y2="269.0" stroke="#2a80d2" stroke-width="5.6"/><g opacity="0.50"><line x1="206.8" y1="215.5" x2="173.8" y2="242.2" stroke="#66b8f2" stroke-width="1.7"/><line x1="173.8" y1="242.2" x2="140.7" y2="269.0" stroke="#66b8f2" stroke-width="1.7"/></g></g><g opacity="0.85"><line x1="140.7" y1="193.0" x2="173.8" y2="243.5" stroke="#e48ee4" stroke-width="5.6"/><line x1="173.8" y1="243.5" x2="206.8" y2="294.0" stroke="#2a80d2" stroke-width="5.6"/><g opacity="0.50"><line x1="140.7" y1="193.0" x2="173.8" y2="243.5" stroke="#fcc8fc" stroke-width="1.7"/><line x1="173.8" y1="243.5" x2="206.8" y2="294.0" stroke="#66b8f2" stroke-width="1.7"/></g></g><g opacity="0.85"><line x1="140.7" y1="269.0" x2="173.8" y2="281.5" stroke="#2a80d2" stroke-width="5.6"/><line x1="173.8" y1="281.5" x2="206.8" y2="294.0" stroke="#2a80d2" stroke-width="5.6"/><g opacity="0.50"><line x1="140.7" y1="269.0" x2="173.8" y2="281.5" stroke="#66b8f2" stroke-width="1.7"/><line x1="173.8" y1="281.5" x2="206.8" y2="294.0" stroke="#66b8f2" stroke-width="1.7"/></g></g><g opacity="0.85"><line x1="206.8" y1="294.0" x2="173.8" y2="320.2" stroke="#2a80d2" stroke-width="5.6"/><line x1="173.8" y1="320.2" x2="140.7" y2="346.5" stroke="#e48ee4" stroke-width="5.6"/><g opacity="0.50"><line x1="206.8" y1="294.0" x2="173.8" y2="320.2" stroke="#66b8f2" stroke-width="1.7"/><line x1="173.8" y1="320.2" x2="140.7" y2="346.5" stroke="#fcc8fc" stroke-width="1.7"/></g></g><g opacity="0.85"><line x1="272.7" y1="128.0" x2="239.8" y2="121.2" stroke="#2a80d2" stroke-width="5.6"/><line x1="239.8" y1="121.2" x2="206.8" y2="114.5" stroke="#e48ee4" stroke-width="5.6"/><g opacity="0.50"><line x1="272.7" y1="128.0" x2="239.8" y2="121.2" stroke="#66b8f2" stroke-width="1.7"/><line x1="239.8" y1="121.2" x2="206.8" y2="114.5" stroke="#fcc8fc" stroke-width="1.7"/></g></g><g opacity="0.85"><line x1="272.7" y1="67.0" x2="239.8" y2="90.8" stroke="#2a80d2" stroke-width="5.6"/><line x1="239.8" y1="90.8" x2="206.8" y2="114.5" stroke="#e48ee4" stroke-width="5.6"/><g opacity="0.50"><line x1="272.7" y1="67.0" x2="239.8" y2="90.8" stroke="#66b8f2" stroke-width="1.7"/><line x1="239.8" y1="90.8" x2="206.8" y2="114.5" stroke="#fcc8fc" stroke-width="1.7"/></g></g><g opacity="0.85"><line x1="272.7" y1="128.0" x2="239.8" y2="171.8" stroke="#2a80d2" stroke-width="5.6"/><line x1="239.8" y1="171.8" x2="206.8" y2="215.5" stroke="#2a80d2" stroke-width="5.6"/><g opacity="0.50"><line x1="272.7" y1="128.0" x2="239.8" y2="171.8" stroke="#66b8f2" stroke-width="1.7"/><line x1="239.8" y1="171.8" x2="206.8" y2="215.5" stroke="#66b8f2" stroke-width="1.7"/></g></g><g opacity="0.85"><line x1="206.8" y1="215.5" x2="239.8" y2="204.2" stroke="#2a80d2" stroke-width="5.6"/><line x1="239.8" y1="204.2" x2="272.7" y2="193.0" stroke="#e48ee4" stroke-width="5.6"/><g opacity="0.50"><line x1="206.8" y1="215.5" x2="239.8" y2="204.2" stroke="#66b8f2" stroke-width="1.7"/><line x1="239.8" y1="204.2" x2="272.7" y2="193.0" stroke="#fcc8fc" stroke-width="1.7"/></g></g><g opacity="0.85"><line x1="206.8" y1="215.5" x2="239.8" y2="242.2" stroke="#2a80d2" stroke-width="5.6"/><line x1="239.8" y1="242.2" x2="272.7" y2="269.0" stroke="#2a80d2" stroke-width="5.6"/><g opacity="0.50"><line x1="206.8" y1="215.5" x2="239.8" y2="242.2" stroke="#66b8f2" stroke-width="1.7"/><line x1="239.8" y1="242.2" x2="272.7" y2="269.0" stroke="#66b8f2" stroke-width="1.7"/></g></g><g opacity="0.85"><line x1="272.7" y1="193.0" x2="239.8" y2="243.5" stroke="#e48ee4" stroke-width="5.6"/><line x1="239.8" y1="243.5" x2="206.8" y2="294.0" stroke="#2a80d2" stroke-width="5.6"/><g opacity="0.50"><line x1="272.7" y1="193.0" x2="239.8" y2="243.5" stroke="#fcc8fc" stroke-width="1.7"/><line x1="239.8" y1="243.5" x2="206.8" y2="294.0" stroke="#66b8f2" stroke-width="1.7"/></g></g><g opacity="0.85"><line x1="272.7" y1="269.0" x2="239.8" y2="281.5" stroke="#2a80d2" stroke-width="5.6"/><line x1="239.8" y1="281.5" x2="206.8" y2="294.0" stroke="#2a80d2" stroke-width="5.6"/><g opacity="0.50"><line x1="272.7" y1="269.0" x2="239.8" y2="281.5" stroke="#66b8f2" stroke-width="1.7"/><line x1="239.8" y1="281.5" x2="206.8" y2="294.0" stroke="#66b8f2" stroke-width="1.7"/></g></g><g opacity="0.85"><line x1="206.8" y1="294.0" x2="239.8" y2="320.2" stroke="#2a80d2" stroke-width="5.6"/><line x1="239.8" y1="320.2" x2="272.7" y2="346.5" stroke="#e48ee4" stroke-width="5.6"/><g opacity="0.50"><line x1="206.8" y1="294.0" x2="239.8" y2="320.2" stroke="#66b8f2" stroke-width="1.7"/><line x1="239.8" y1="320.2" x2="272.7" y2="346.5" stroke="#fcc8fc" stroke-width="1.7"/></g></g><g opacity="0.85"><line x1="272.7" y1="128.0" x2="305.6" y2="121.2" stroke="#2a80d2" stroke-width="5.6"/><line x1="305.6" y1="121.2" x2="338.6" y2="114.5" stroke="#e48ee4" stroke-width="5.6"/><g opacity="0.50"><line x1="272.7" y1="128.0" x2="305.6" y2="121.2" stroke="#66b8f2" stroke-width="1.7"/><line x1="305.6" y1="121.2" x2="338.6" y2="114.5" stroke="#fcc8fc" stroke-width="1.7"/></g></g><g opacity="0.85"><line x1="272.7" y1="67.0" x2="305.6" y2="90.8" stroke="#2a80d2" stroke-width="5.6"/><line x1="305.6" y1="90.8" x2="338.6" y2="114.5" stroke="#e48ee4" stroke-width="5.6"/><g opacity="0.50"><line x1="272.7" y1="67.0" x2="305.6" y2="90.8" stroke="#66b8f2" stroke-width="1.7"/><line x1="305.6" y1="90.8" x2="338.6" y2="114.5" stroke="#fcc8fc" stroke-width="1.7"/></g></g><g opacity="0.85"><line x1="272.7" y1="128.0" x2="305.6" y2="171.8" stroke="#2a80d2" stroke-width="5.6"/><line x1="305.6" y1="171.8" x2="338.6" y2="215.5" stroke="#2a80d2" stroke-width="5.6"/><g opacity="0.50"><line x1="272.7" y1="128.0" x2="305.6" y2="171.8" stroke="#66b8f2" stroke-width="1.7"/><line x1="305.6" y1="171.8" x2="338.6" y2="215.5" stroke="#66b8f2" stroke-width="1.7"/></g></g><g opacity="0.85"><line x1="338.6" y1="215.5" x2="305.6" y2="204.2" stroke="#2a80d2" stroke-width="5.6"/><line x1="305.6" y1="204.2" x2="272.7" y2="193.0" stroke="#e48ee4" stroke-width="5.6"/><g opacity="0.50"><line x1="338.6" y1="215.5" x2="305.6" y2="204.2" stroke="#66b8f2" stroke-width="1.7"/><line x1="305.6" y1="204.2" x2="272.7" y2="193.0" stroke="#fcc8fc" stroke-width="1.7"/></g></g><g opacity="0.85"><line x1="338.6" y1="215.5" x2="305.6" y2="242.2" stroke="#2a80d2" stroke-width="5.6"/><line x1="305.6" y1="242.2" x2="272.7" y2="269.0" stroke="#2a80d2" stroke-width="5.6"/><g opacity="0.50"><line x1="338.6" y1="215.5" x2="305.6" y2="242.2" stroke="#66b8f2" stroke-width="1.7"/><line x1="305.6" y1="242.2" x2="272.7" y2="269.0" stroke="#66b8f2" stroke-width="1.7"/></g></g><g opacity="0.85"><line x1="272.7" y1="193.0" x2="305.6" y2="243.5" stroke="#e48ee4" stroke-width="5.6"/><line x1="305.6" y1="243.5" x2="338.6" y2="294.0" stroke="#2a80d2" stroke-width="5.6"/><g opacity="0.50"><line x1="272.7" y1="193.0" x2="305.6" y2="243.5" stroke="#fcc8fc" stroke-width="1.7"/><line x1="305.6" y1="243.5" x2="338.6" y2="294.0" stroke="#66b8f2" stroke-width="1.7"/></g></g><g opacity="0.85"><line x1="272.7" y1="269.0" x2="305.6" y2="281.5" stroke="#2a80d2" stroke-width="5.6"/><line x1="305.6" y1="281.5" x2="338.6" y2="294.0" stroke="#2a80d2" stroke-width="5.6"/><g opacity="0.50"><line x1="272.7" y1="269.0" x2="305.6" y2="281.5" stroke="#66b8f2" stroke-width="1.7"/><line x1="305.6" y1="281.5" x2="338.6" y2="294.0" stroke="#66b8f2" stroke-width="1.7"/></g></g><g opacity="0.85"><line x1="338.6" y1="294.0" x2="305.6" y2="320.2" stroke="#2a80d2" stroke-width="5.6"/><line x1="305.6" y1="320.2" x2="272.7" y2="346.5" stroke="#e48ee4" stroke-width="5.6"/><g opacity="0.50"><line x1="338.6" y1="294.0" x2="305.6" y2="320.2" stroke="#66b8f2" stroke-width="1.7"/><line x1="305.6" y1="320.2" x2="272.7" y2="346.5" stroke="#fcc8fc" stroke-width="1.7"/></g></g><g opacity="0.85"><line x1="404.5" y1="128.0" x2="371.6" y2="121.2" stroke="#2a80d2" stroke-width="5.6"/><line x1="371.6" y1="121.2" x2="338.6" y2="114.5" stroke="#e48ee4" stroke-width="5.6"/><g opacity="0.50"><line x1="404.5" y1="128.0" x2="371.6" y2="121.2" stroke="#66b8f2" stroke-width="1.7"/><line x1="371.6" y1="121.2" x2="338.6" y2="114.5" stroke="#fcc8fc" stroke-width="1.7"/></g></g><g opacity="0.85"><line x1="404.5" y1="67.0" x2="371.6" y2="90.8" stroke="#2a80d2" stroke-width="5.6"/><line x1="371.6" y1="90.8" x2="338.6" y2="114.5" stroke="#e48ee4" stroke-width="5.6"/><g opacity="0.50"><line x1="404.5" y1="67.0" x2="371.6" y2="90.8" stroke="#66b8f2" stroke-width="1.7"/><line x1="371.6" y1="90.8" x2="338.6" y2="114.5" stroke="#fcc8fc" stroke-width="1.7"/></g></g><g opacity="0.85"><line x1="404.5" y1="128.0" x2="371.6" y2="171.8" stroke="#2a80d2" stroke-width="5.6"/><line x1="371.6" y1="171.8" x2="338.6" y2="215.5" stroke="#2a80d2" stroke-width="5.6"/><g opacity="0.50"><line x1="404.5" y1="128.0" x2="371.6" y2="171.8" stroke="#66b8f2" stroke-width="1.7"/><line x1="371.6" y1="171.8" x2="338.6" y2="215.5" stroke="#66b8f2" stroke-width="1.7"/></g></g><g opacity="0.85"><line x1="338.6" y1="215.5" x2="371.6" y2="204.2" stroke="#2a80d2" stroke-width="5.6"/><line x1="371.6" y1="204.2" x2="404.5" y2="193.0" stroke="#e48ee4" stroke-width="5.6"/><g opacity="0.50"><line x1="338.6" y1="215.5" x2="371.6" y2="204.2" stroke="#66b8f2" stroke-width="1.7"/><line x1="371.6" y1="204.2" x2="404.5" y2="193.0" stroke="#fcc8fc" stroke-width="1.7"/></g></g><g opacity="0.85"><line x1="338.6" y1="215.5" x2="371.6" y2="242.2" stroke="#2a80d2" stroke-width="5.6"/><line x1="371.6" y1="242.2" x2="404.5" y2="269.0" stroke="#2a80d2" stroke-width="5.6"/><g opacity="0.50"><line x1="338.6" y1="215.5" x2="371.6" y2="242.2" stroke="#66b8f2" stroke-width="1.7"/><line x1="371.6" y1="242.2" x2="404.5" y2="269.0" stroke="#66b8f2" stroke-width="1.7"/></g></g><g opacity="0.85"><line x1="404.5" y1="193.0" x2="371.6" y2="243.5" stroke="#e48ee4" stroke-width="5.6"/><line x1="371.6" y1="243.5" x2="338.6" y2="294.0" stroke="#2a80d2" stroke-width="5.6"/><g opacity="0.50"><line x1="404.5" y1="193.0" x2="371.6" y2="243.5" stroke="#fcc8fc" stroke-width="1.7"/><line x1="371.6" y1="243.5" x2="338.6" y2="294.0" stroke="#66b8f2" stroke-width="1.7"/></g></g><g opacity="0.85"><line x1="404.5" y1="269.0" x2="371.6" y2="281.5" stroke="#2a80d2" stroke-width="5.6"/><line x1="371.6" y1="281.5" x2="338.6" y2="294.0" stroke="#2a80d2" stroke-width="5.6"/><g opacity="0.50"><line x1="404.5" y1="269.0" x2="371.6" y2="281.5" stroke="#66b8f2" stroke-width="1.7"/><line x1="371.6" y1="281.5" x2="338.6" y2="294.0" stroke="#66b8f2" stroke-width="1.7"/></g></g><g opacity="0.85"><line x1="338.6" y1="294.0" x2="371.6" y2="320.2" stroke="#2a80d2" stroke-width="5.6"/><line x1="371.6" y1="320.2" x2="404.5" y2="346.5" stroke="#e48ee4" stroke-width="5.6"/><g opacity="0.50"><line x1="338.6" y1="294.0" x2="371.6" y2="320.2" stroke="#66b8f2" stroke-width="1.7"/><line x1="371.6" y1="320.2" x2="404.5" y2="346.5" stroke="#fcc8fc" stroke-width="1.7"/></g></g><g opacity="0.85"><line x1="140.7" y1="128.0" x2="140.7" y2="160.5" stroke="#2a80d2" stroke-width="5.6"/><line x1="140.7" y1="160.5" x2="140.7" y2="193.0" stroke="#e48ee4" stroke-width="5.6"/><g opacity="0.50"><line x1="140.7" y1="128.0" x2="140.7" y2="160.5" stroke="#66b8f2" stroke-width="1.7"/><line x1="140.7" y1="160.5" x2="140.7" y2="193.0" stroke="#fcc8fc" stroke-width="1.7"/></g></g><g opacity="0.85"><line x1="140.7" y1="269.0" x2="140.7" y2="307.8" stroke="#2a80d2" stroke-width="5.6"/><line x1="140.7" y1="307.8" x2="140.7" y2="346.5" stroke="#e48ee4" stroke-width="5.6"/><g opacity="0.50"><line x1="140.7" y1="269.0" x2="140.7" y2="307.8" stroke="#66b8f2" stroke-width="1.7"/><line x1="140.7" y1="307.8" x2="140.7" y2="346.5" stroke="#fcc8fc" stroke-width="1.7"/></g></g><g opacity="0.85"><line x1="272.7" y1="128.0" x2="272.7" y2="160.5" stroke="#2a80d2" stroke-width="5.6"/><line x1="272.7" y1="160.5" x2="272.7" y2="193.0" stroke="#e48ee4" stroke-width="5.6"/><g opacity="0.50"><line x1="272.7" y1="128.0" x2="272.7" y2="160.5" stroke="#66b8f2" stroke-width="1.7"/><line x1="272.7" y1="160.5" x2="272.7" y2="193.0" stroke="#fcc8fc" stroke-width="1.7"/></g></g><g opacity="0.85"><line x1="272.7" y1="269.0" x2="272.7" y2="307.8" stroke="#2a80d2" stroke-width="5.6"/><line x1="272.7" y1="307.8" x2="272.7" y2="346.5" stroke="#e48ee4" stroke-width="5.6"/><g opacity="0.50"><line x1="272.7" y1="269.0" x2="272.7" y2="307.8" stroke="#66b8f2" stroke-width="1.7"/><line x1="272.7" y1="307.8" x2="272.7" y2="346.5" stroke="#fcc8fc" stroke-width="1.7"/></g></g><g opacity="0.85"><line x1="404.5" y1="128.0" x2="404.5" y2="160.5" stroke="#2a80d2" stroke-width="5.6"/><line x1="404.5" y1="160.5" x2="404.5" y2="193.0" stroke="#e48ee4" stroke-width="5.6"/><g opacity="0.50"><line x1="404.5" y1="128.0" x2="404.5" y2="160.5" stroke="#66b8f2" stroke-width="1.7"/><line x1="404.5" y1="160.5" x2="404.5" y2="193.0" stroke="#fcc8fc" stroke-width="1.7"/></g></g><g opacity="0.85"><line x1="404.5" y1="269.0" x2="404.5" y2="307.8" stroke="#2a80d2" stroke-width="5.6"/><line x1="404.5" y1="307.8" x2="404.5" y2="346.5" stroke="#e48ee4" stroke-width="5.6"/><g opacity="0.50"><line x1="404.5" y1="269.0" x2="404.5" y2="307.8" stroke="#66b8f2" stroke-width="1.7"/><line x1="404.5" y1="307.8" x2="404.5" y2="346.5" stroke="#fcc8fc" stroke-width="1.7"/></g></g><g opacity="0.85"><line x1="206.8" y1="45.9" x2="206.8" y2="80.2" stroke="#2a80d2" stroke-width="5.6"/><line x1="206.8" y1="80.2" x2="206.8" y2="114.5" stroke="#e48ee4" stroke-width="5.6"/><g opacity="0.50"><line x1="206.8" y1="45.9" x2="206.8" y2="80.2" stroke="#66b8f2" stroke-width="1.7"/><line x1="206.8" y1="80.2" x2="206.8" y2="114.5" stroke="#fcc8fc" stroke-width="1.7"/></g></g><g opacity="0.85"><line x1="206.8" y1="114.5" x2="206.8" y2="165.0" stroke="#e48ee4" stroke-width="5.6"/><line x1="206.8" y1="165.0" x2="206.8" y2="215.5" stroke="#2a80d2" stroke-width="5.6"/><g opacity="0.50"><line x1="206.8" y1="114.5" x2="206.8" y2="165.0" stroke="#fcc8fc" stroke-width="1.7"/><line x1="206.8" y1="165.0" x2="206.8" y2="215.5" stroke="#66b8f2" stroke-width="1.7"/></g></g><g opacity="0.85"><line x1="206.8" y1="215.5" x2="206.8" y2="254.8" stroke="#2a80d2" stroke-width="5.6"/><line x1="206.8" y1="254.8" x2="206.8" y2="294.0" stroke="#2a80d2" stroke-width="5.6"/><g opacity="0.50"><line x1="206.8" y1="215.5" x2="206.8" y2="254.8" stroke="#66b8f2" stroke-width="1.7"/><line x1="206.8" y1="254.8" x2="206.8" y2="294.0" stroke="#66b8f2" stroke-width="1.7"/></g></g><g opacity="0.85"><line x1="338.6" y1="45.9" x2="338.6" y2="80.2" stroke="#2a80d2" stroke-width="5.6"/><line x1="338.6" y1="80.2" x2="338.6" y2="114.5" stroke="#e48ee4" stroke-width="5.6"/><g opacity="0.50"><line x1="338.6" y1="45.9" x2="338.6" y2="80.2" stroke="#66b8f2" stroke-width="1.7"/><line x1="338.6" y1="80.2" x2="338.6" y2="114.5" stroke="#fcc8fc" stroke-width="1.7"/></g></g><g opacity="0.85"><line x1="338.6" y1="114.5" x2="338.6" y2="165.0" stroke="#e48ee4" stroke-width="5.6"/><line x1="338.6" y1="165.0" x2="338.6" y2="215.5" stroke="#2a80d2" stroke-width="5.6"/><g opacity="0.50"><line x1="338.6" y1="114.5" x2="338.6" y2="165.0" stroke="#fcc8fc" stroke-width="1.7"/><line x1="338.6" y1="165.0" x2="338.6" y2="215.5" stroke="#66b8f2" stroke-width="1.7"/></g></g><g opacity="0.85"><line x1="338.6" y1="215.5" x2="338.6" y2="254.8" stroke="#2a80d2" stroke-width="5.6"/><line x1="338.6" y1="254.8" x2="338.6" y2="294.0" stroke="#2a80d2" stroke-width="5.6"/><g opacity="0.50"><line x1="338.6" y1="215.5" x2="338.6" y2="254.8" stroke="#66b8f2" stroke-width="1.7"/><line x1="338.6" y1="254.8" x2="338.6" y2="294.0" stroke="#66b8f2" stroke-width="1.7"/></g></g><circle cx="140.7" cy="67.0" r="22.7" fill="url(#gB)"/><circle cx="272.7" cy="67.0" r="22.7" fill="url(#gB)"/><circle cx="404.5" cy="67.0" r="22.7" fill="url(#gB)"/><circle cx="206.8" cy="152.3" r="22.2" fill="url(#gB)"/><circle cx="206.8" cy="293.5" r="22.2" fill="url(#gB)"/><circle cx="206.8" cy="295.5" r="17.5" fill="url(#gP)"/><circle cx="338.6" cy="152.3" r="22.2" fill="url(#gB)"/><circle cx="338.6" cy="293.5" r="22.2" fill="url(#gB)"/><circle cx="338.6" cy="295.5" r="17.5" fill="url(#gP)"/><g><line x1="140.7" y1="67.0" x2="173.8" y2="72.2" stroke="#e48ee4" stroke-width="6.8"/><line x1="173.8" y1="72.2" x2="206.8" y2="77.5" stroke="#2a80d2" stroke-width="6.8"/><g opacity="0.55"><line x1="140.7" y1="67.0" x2="173.8" y2="72.2" stroke="#fcc8fc" stroke-width="2.0"/><line x1="173.8" y1="72.2" x2="206.8" y2="77.5" stroke="#66b8f2" stroke-width="2.0"/></g></g><g><line x1="140.7" y1="67.0" x2="173.8" y2="109.7" stroke="#e48ee4" stroke-width="6.8"/><line x1="173.8" y1="109.7" x2="206.8" y2="152.3" stroke="#2a80d2" stroke-width="6.8"/><g opacity="0.55"><line x1="140.7" y1="67.0" x2="173.8" y2="109.7" stroke="#fcc8fc" stroke-width="2.0"/><line x1="173.8" y1="109.7" x2="206.8" y2="152.3" stroke="#66b8f2" stroke-width="2.0"/></g></g><g><line x1="206.8" y1="77.5" x2="173.8" y2="119.2" stroke="#2a80d2" stroke-width="6.8"/><line x1="173.8" y1="119.2" x2="140.7" y2="161.0" stroke="#e48ee4" stroke-width="6.8"/><g opacity="0.55"><line x1="206.8" y1="77.5" x2="173.8" y2="119.2" stroke="#66b8f2" stroke-width="2.0"/><line x1="173.8" y1="119.2" x2="140.7" y2="161.0" stroke="#fcc8fc" stroke-width="2.0"/></g></g><g><line x1="206.8" y1="152.3" x2="173.8" y2="156.7" stroke="#2a80d2" stroke-width="6.8"/><line x1="173.8" y1="156.7" x2="140.7" y2="161.0" stroke="#e48ee4" stroke-width="6.8"/><g opacity="0.55"><line x1="206.8" y1="152.3" x2="173.8" y2="156.7" stroke="#66b8f2" stroke-width="2.0"/><line x1="173.8" y1="156.7" x2="140.7" y2="161.0" stroke="#fcc8fc" stroke-width="2.0"/></g></g><g><line x1="206.8" y1="152.3" x2="177.1" y2="190.6" stroke="#d8d41c" stroke-width="6.8"/><line x1="177.1" y1="190.6" x2="140.7" y2="237.5" stroke="#2a80d2" stroke-width="6.8"/><g opacity="0.55"><line x1="206.8" y1="152.3" x2="177.1" y2="190.6" stroke="#f4f070" stroke-width="2.0"/><line x1="177.1" y1="190.6" x2="140.7" y2="237.5" stroke="#66b8f2" stroke-width="2.0"/></g></g><g><line x1="140.7" y1="161.0" x2="173.8" y2="188.2" stroke="#e48ee4" stroke-width="6.8"/><line x1="173.8" y1="188.2" x2="206.8" y2="215.5" stroke="#2a80d2" stroke-width="6.8"/><g opacity="0.55"><line x1="140.7" y1="161.0" x2="173.8" y2="188.2" stroke="#fcc8fc" stroke-width="2.0"/><line x1="173.8" y1="188.2" x2="206.8" y2="215.5" stroke="#66b8f2" stroke-width="2.0"/></g></g><g><line x1="140.7" y1="237.5" x2="173.8" y2="261.1" stroke="#2a80d2" stroke-width="6.8"/><line x1="173.8" y1="261.1" x2="206.8" y2="284.7" stroke="#e48ee4" stroke-width="6.8"/><g opacity="0.55"><line x1="140.7" y1="237.5" x2="173.8" y2="261.1" stroke="#66b8f2" stroke-width="2.0"/><line x1="173.8" y1="261.1" x2="206.8" y2="284.7" stroke="#fcc8fc" stroke-width="2.0"/></g></g><g><line x1="206.8" y1="252.0" x2="173.8" y2="276.0" stroke="#e48ee4" stroke-width="6.8"/><line x1="173.8" y1="276.0" x2="140.7" y2="300.0" stroke="#2a80d2" stroke-width="6.8"/><g opacity="0.55"><line x1="206.8" y1="252.0" x2="173.8" y2="276.0" stroke="#fcc8fc" stroke-width="2.0"/><line x1="173.8" y1="276.0" x2="140.7" y2="300.0" stroke="#66b8f2" stroke-width="2.0"/></g></g><g><line x1="140.7" y1="300.0" x2="173.8" y2="292.4" stroke="#2a80d2" stroke-width="6.8"/><line x1="173.8" y1="292.4" x2="206.8" y2="284.7" stroke="#e48ee4" stroke-width="6.8"/><g opacity="0.55"><line x1="140.7" y1="300.0" x2="173.8" y2="292.4" stroke="#66b8f2" stroke-width="2.0"/><line x1="173.8" y1="292.4" x2="206.8" y2="284.7" stroke="#fcc8fc" stroke-width="2.0"/></g></g><g><line x1="140.7" y1="337.0" x2="173.8" y2="315.8" stroke="#e48ee4" stroke-width="6.8"/><line x1="173.8" y1="315.8" x2="206.8" y2="294.5" stroke="#2a80d2" stroke-width="6.8"/><g opacity="0.55"><line x1="140.7" y1="337.0" x2="173.8" y2="315.8" stroke="#fcc8fc" stroke-width="2.0"/><line x1="173.8" y1="315.8" x2="206.8" y2="294.5" stroke="#66b8f2" stroke-width="2.0"/></g></g><g><line x1="272.7" y1="67.0" x2="239.8" y2="72.2" stroke="#e48ee4" stroke-width="6.8"/><line x1="239.8" y1="72.2" x2="206.8" y2="77.5" stroke="#2a80d2" stroke-width="6.8"/><g opacity="0.55"><line x1="272.7" y1="67.0" x2="239.8" y2="72.2" stroke="#fcc8fc" stroke-width="2.0"/><line x1="239.8" y1="72.2" x2="206.8" y2="77.5" stroke="#66b8f2" stroke-width="2.0"/></g></g><g><line x1="272.7" y1="67.0" x2="239.8" y2="109.7" stroke="#e48ee4" stroke-width="6.8"/><line x1="239.8" y1="109.7" x2="206.8" y2="152.3" stroke="#2a80d2" stroke-width="6.8"/><g opacity="0.55"><line x1="272.7" y1="67.0" x2="239.8" y2="109.7" stroke="#fcc8fc" stroke-width="2.0"/><line x1="239.8" y1="109.7" x2="206.8" y2="152.3" stroke="#66b8f2" stroke-width="2.0"/></g></g><g><line x1="206.8" y1="77.5" x2="239.8" y2="119.2" stroke="#2a80d2" stroke-width="6.8"/><line x1="239.8" y1="119.2" x2="272.7" y2="161.0" stroke="#e48ee4" stroke-width="6.8"/><g opacity="0.55"><line x1="206.8" y1="77.5" x2="239.8" y2="119.2" stroke="#66b8f2" stroke-width="2.0"/><line x1="239.8" y1="119.2" x2="272.7" y2="161.0" stroke="#fcc8fc" stroke-width="2.0"/></g></g><g><line x1="206.8" y1="152.3" x2="239.8" y2="156.7" stroke="#2a80d2" stroke-width="6.8"/><line x1="239.8" y1="156.7" x2="272.7" y2="161.0" stroke="#e48ee4" stroke-width="6.8"/><g opacity="0.55"><line x1="206.8" y1="152.3" x2="239.8" y2="156.7" stroke="#66b8f2" stroke-width="2.0"/><line x1="239.8" y1="156.7" x2="272.7" y2="161.0" stroke="#fcc8fc" stroke-width="2.0"/></g></g><g><line x1="206.8" y1="152.3" x2="236.5" y2="190.6" stroke="#d8d41c" stroke-width="6.8"/><line x1="236.5" y1="190.6" x2="272.7" y2="237.5" stroke="#2a80d2" stroke-width="6.8"/><g opacity="0.55"><line x1="206.8" y1="152.3" x2="236.5" y2="190.6" stroke="#f4f070" stroke-width="2.0"/><line x1="236.5" y1="190.6" x2="272.7" y2="237.5" stroke="#66b8f2" stroke-width="2.0"/></g></g><g><line x1="272.7" y1="161.0" x2="239.8" y2="188.2" stroke="#e48ee4" stroke-width="6.8"/><line x1="239.8" y1="188.2" x2="206.8" y2="215.5" stroke="#2a80d2" stroke-width="6.8"/><g opacity="0.55"><line x1="272.7" y1="161.0" x2="239.8" y2="188.2" stroke="#fcc8fc" stroke-width="2.0"/><line x1="239.8" y1="188.2" x2="206.8" y2="215.5" stroke="#66b8f2" stroke-width="2.0"/></g></g><g><line x1="272.7" y1="237.5" x2="239.8" y2="261.1" stroke="#2a80d2" stroke-width="6.8"/><line x1="239.8" y1="261.1" x2="206.8" y2="284.7" stroke="#e48ee4" stroke-width="6.8"/><g opacity="0.55"><line x1="272.7" y1="237.5" x2="239.8" y2="261.1" stroke="#66b8f2" stroke-width="2.0"/><line x1="239.8" y1="261.1" x2="206.8" y2="284.7" stroke="#fcc8fc" stroke-width="2.0"/></g></g><g><line x1="206.8" y1="252.0" x2="239.8" y2="276.0" stroke="#e48ee4" stroke-width="6.8"/><line x1="239.8" y1="276.0" x2="272.7" y2="300.0" stroke="#2a80d2" stroke-width="6.8"/><g opacity="0.55"><line x1="206.8" y1="252.0" x2="239.8" y2="276.0" stroke="#fcc8fc" stroke-width="2.0"/><line x1="239.8" y1="276.0" x2="272.7" y2="300.0" stroke="#66b8f2" stroke-width="2.0"/></g></g><g><line x1="272.7" y1="300.0" x2="239.8" y2="292.4" stroke="#2a80d2" stroke-width="6.8"/><line x1="239.8" y1="292.4" x2="206.8" y2="284.7" stroke="#e48ee4" stroke-width="6.8"/><g opacity="0.55"><line x1="272.7" y1="300.0" x2="239.8" y2="292.4" stroke="#66b8f2" stroke-width="2.0"/><line x1="239.8" y1="292.4" x2="206.8" y2="284.7" stroke="#fcc8fc" stroke-width="2.0"/></g></g><g><line x1="272.7" y1="337.0" x2="239.8" y2="315.8" stroke="#e48ee4" stroke-width="6.8"/><line x1="239.8" y1="315.8" x2="206.8" y2="294.5" stroke="#2a80d2" stroke-width="6.8"/><g opacity="0.55"><line x1="272.7" y1="337.0" x2="239.8" y2="315.8" stroke="#fcc8fc" stroke-width="2.0"/><line x1="239.8" y1="315.8" x2="206.8" y2="294.5" stroke="#66b8f2" stroke-width="2.0"/></g></g><g><line x1="206.8" y1="77.5" x2="206.8" y2="114.9" stroke="#2a80d2" stroke-width="6.8"/><line x1="206.8" y1="114.9" x2="206.8" y2="152.3" stroke="#d8d41c" stroke-width="6.8"/><g opacity="0.55"><line x1="206.8" y1="77.5" x2="206.8" y2="114.9" stroke="#66b8f2" stroke-width="2.0"/><line x1="206.8" y1="114.9" x2="206.8" y2="152.3" stroke="#f4f070" stroke-width="2.0"/></g></g><g><line x1="206.8" y1="152.3" x2="206.8" y2="207.1" stroke="#2a80d2" stroke-width="6.8"/><line x1="206.8" y1="207.1" x2="206.8" y2="252.0" stroke="#e48ee4" stroke-width="6.8"/><g opacity="0.55"><line x1="206.8" y1="152.3" x2="206.8" y2="207.1" stroke="#66b8f2" stroke-width="2.0"/><line x1="206.8" y1="207.1" x2="206.8" y2="252.0" stroke="#fcc8fc" stroke-width="2.0"/></g></g><g><line x1="272.7" y1="67.0" x2="305.6" y2="72.2" stroke="#e48ee4" stroke-width="6.8"/><line x1="305.6" y1="72.2" x2="338.6" y2="77.5" stroke="#2a80d2" stroke-width="6.8"/><g opacity="0.55"><line x1="272.7" y1="67.0" x2="305.6" y2="72.2" stroke="#fcc8fc" stroke-width="2.0"/><line x1="305.6" y1="72.2" x2="338.6" y2="77.5" stroke="#66b8f2" stroke-width="2.0"/></g></g><g><line x1="272.7" y1="67.0" x2="305.6" y2="109.7" stroke="#e48ee4" stroke-width="6.8"/><line x1="305.6" y1="109.7" x2="338.6" y2="152.3" stroke="#2a80d2" stroke-width="6.8"/><g opacity="0.55"><line x1="272.7" y1="67.0" x2="305.6" y2="109.7" stroke="#fcc8fc" stroke-width="2.0"/><line x1="305.6" y1="109.7" x2="338.6" y2="152.3" stroke="#66b8f2" stroke-width="2.0"/></g></g><g><line x1="338.6" y1="77.5" x2="305.6" y2="119.2" stroke="#2a80d2" stroke-width="6.8"/><line x1="305.6" y1="119.2" x2="272.7" y2="161.0" stroke="#e48ee4" stroke-width="6.8"/><g opacity="0.55"><line x1="338.6" y1="77.5" x2="305.6" y2="119.2" stroke="#66b8f2" stroke-width="2.0"/><line x1="305.6" y1="119.2" x2="272.7" y2="161.0" stroke="#fcc8fc" stroke-width="2.0"/></g></g><g><line x1="338.6" y1="152.3" x2="305.6" y2="156.7" stroke="#2a80d2" stroke-width="6.8"/><line x1="305.6" y1="156.7" x2="272.7" y2="161.0" stroke="#e48ee4" stroke-width="6.8"/><g opacity="0.55"><line x1="338.6" y1="152.3" x2="305.6" y2="156.7" stroke="#66b8f2" stroke-width="2.0"/><line x1="305.6" y1="156.7" x2="272.7" y2="161.0" stroke="#fcc8fc" stroke-width="2.0"/></g></g><g><line x1="338.6" y1="152.3" x2="308.9" y2="190.6" stroke="#e48ee4" stroke-width="6.8"/><line x1="308.9" y1="190.6" x2="272.7" y2="237.5" stroke="#2a80d2" stroke-width="6.8"/><g opacity="0.55"><line x1="338.6" y1="152.3" x2="308.9" y2="190.6" stroke="#fcc8fc" stroke-width="2.0"/><line x1="308.9" y1="190.6" x2="272.7" y2="237.5" stroke="#66b8f2" stroke-width="2.0"/></g></g><g><line x1="272.7" y1="161.0" x2="305.6" y2="188.2" stroke="#e48ee4" stroke-width="6.8"/><line x1="305.6" y1="188.2" x2="338.6" y2="215.5" stroke="#2a80d2" stroke-width="6.8"/><g opacity="0.55"><line x1="272.7" y1="161.0" x2="305.6" y2="188.2" stroke="#fcc8fc" stroke-width="2.0"/><line x1="305.6" y1="188.2" x2="338.6" y2="215.5" stroke="#66b8f2" stroke-width="2.0"/></g></g><g><line x1="272.7" y1="237.5" x2="305.6" y2="261.1" stroke="#2a80d2" stroke-width="6.8"/><line x1="305.6" y1="261.1" x2="338.6" y2="284.7" stroke="#e48ee4" stroke-width="6.8"/><g opacity="0.55"><line x1="272.7" y1="237.5" x2="305.6" y2="261.1" stroke="#66b8f2" stroke-width="2.0"/><line x1="305.6" y1="261.1" x2="338.6" y2="284.7" stroke="#fcc8fc" stroke-width="2.0"/></g></g><g><line x1="338.6" y1="252.0" x2="305.6" y2="276.0" stroke="#e48ee4" stroke-width="6.8"/><line x1="305.6" y1="276.0" x2="272.7" y2="300.0" stroke="#2a80d2" stroke-width="6.8"/><g opacity="0.55"><line x1="338.6" y1="252.0" x2="305.6" y2="276.0" stroke="#fcc8fc" stroke-width="2.0"/><line x1="305.6" y1="276.0" x2="272.7" y2="300.0" stroke="#66b8f2" stroke-width="2.0"/></g></g><g><line x1="272.7" y1="300.0" x2="305.6" y2="292.4" stroke="#2a80d2" stroke-width="6.8"/><line x1="305.6" y1="292.4" x2="338.6" y2="284.7" stroke="#e48ee4" stroke-width="6.8"/><g opacity="0.55"><line x1="272.7" y1="300.0" x2="305.6" y2="292.4" stroke="#66b8f2" stroke-width="2.0"/><line x1="305.6" y1="292.4" x2="338.6" y2="284.7" stroke="#fcc8fc" stroke-width="2.0"/></g></g><g><line x1="272.7" y1="337.0" x2="305.6" y2="315.8" stroke="#e48ee4" stroke-width="6.8"/><line x1="305.6" y1="315.8" x2="338.6" y2="294.5" stroke="#2a80d2" stroke-width="6.8"/><g opacity="0.55"><line x1="272.7" y1="337.0" x2="305.6" y2="315.8" stroke="#fcc8fc" stroke-width="2.0"/><line x1="305.6" y1="315.8" x2="338.6" y2="294.5" stroke="#66b8f2" stroke-width="2.0"/></g></g><g><line x1="404.5" y1="67.0" x2="371.6" y2="72.2" stroke="#e48ee4" stroke-width="6.8"/><line x1="371.6" y1="72.2" x2="338.6" y2="77.5" stroke="#2a80d2" stroke-width="6.8"/><g opacity="0.55"><line x1="404.5" y1="67.0" x2="371.6" y2="72.2" stroke="#fcc8fc" stroke-width="2.0"/><line x1="371.6" y1="72.2" x2="338.6" y2="77.5" stroke="#66b8f2" stroke-width="2.0"/></g></g><g><line x1="404.5" y1="67.0" x2="371.6" y2="109.7" stroke="#e48ee4" stroke-width="6.8"/><line x1="371.6" y1="109.7" x2="338.6" y2="152.3" stroke="#2a80d2" stroke-width="6.8"/><g opacity="0.55"><line x1="404.5" y1="67.0" x2="371.6" y2="109.7" stroke="#fcc8fc" stroke-width="2.0"/><line x1="371.6" y1="109.7" x2="338.6" y2="152.3" stroke="#66b8f2" stroke-width="2.0"/></g></g><g><line x1="338.6" y1="77.5" x2="371.6" y2="119.2" stroke="#2a80d2" stroke-width="6.8"/><line x1="371.6" y1="119.2" x2="404.5" y2="161.0" stroke="#e48ee4" stroke-width="6.8"/><g opacity="0.55"><line x1="338.6" y1="77.5" x2="371.6" y2="119.2" stroke="#66b8f2" stroke-width="2.0"/><line x1="371.6" y1="119.2" x2="404.5" y2="161.0" stroke="#fcc8fc" stroke-width="2.0"/></g></g><g><line x1="338.6" y1="152.3" x2="371.6" y2="156.7" stroke="#2a80d2" stroke-width="6.8"/><line x1="371.6" y1="156.7" x2="404.5" y2="161.0" stroke="#e48ee4" stroke-width="6.8"/><g opacity="0.55"><line x1="338.6" y1="152.3" x2="371.6" y2="156.7" stroke="#66b8f2" stroke-width="2.0"/><line x1="371.6" y1="156.7" x2="404.5" y2="161.0" stroke="#fcc8fc" stroke-width="2.0"/></g></g><g><line x1="338.6" y1="152.3" x2="368.3" y2="190.6" stroke="#e48ee4" stroke-width="6.8"/><line x1="368.3" y1="190.6" x2="404.5" y2="237.5" stroke="#2a80d2" stroke-width="6.8"/><g opacity="0.55"><line x1="338.6" y1="152.3" x2="368.3" y2="190.6" stroke="#fcc8fc" stroke-width="2.0"/><line x1="368.3" y1="190.6" x2="404.5" y2="237.5" stroke="#66b8f2" stroke-width="2.0"/></g></g><g><line x1="404.5" y1="161.0" x2="371.6" y2="188.2" stroke="#e48ee4" stroke-width="6.8"/><line x1="371.6" y1="188.2" x2="338.6" y2="215.5" stroke="#2a80d2" stroke-width="6.8"/><g opacity="0.55"><line x1="404.5" y1="161.0" x2="371.6" y2="188.2" stroke="#fcc8fc" stroke-width="2.0"/><line x1="371.6" y1="188.2" x2="338.6" y2="215.5" stroke="#66b8f2" stroke-width="2.0"/></g></g><g><line x1="404.5" y1="237.5" x2="371.6" y2="261.1" stroke="#2a80d2" stroke-width="6.8"/><line x1="371.6" y1="261.1" x2="338.6" y2="284.7" stroke="#e48ee4" stroke-width="6.8"/><g opacity="0.55"><line x1="404.5" y1="237.5" x2="371.6" y2="261.1" stroke="#66b8f2" stroke-width="2.0"/><line x1="371.6" y1="261.1" x2="338.6" y2="284.7" stroke="#fcc8fc" stroke-width="2.0"/></g></g><g><line x1="338.6" y1="252.0" x2="371.6" y2="276.0" stroke="#e48ee4" stroke-width="6.8"/><line x1="371.6" y1="276.0" x2="404.5" y2="300.0" stroke="#2a80d2" stroke-width="6.8"/><g opacity="0.55"><line x1="338.6" y1="252.0" x2="371.6" y2="276.0" stroke="#fcc8fc" stroke-width="2.0"/><line x1="371.6" y1="276.0" x2="404.5" y2="300.0" stroke="#66b8f2" stroke-width="2.0"/></g></g><g><line x1="404.5" y1="300.0" x2="371.6" y2="292.4" stroke="#2a80d2" stroke-width="6.8"/><line x1="371.6" y1="292.4" x2="338.6" y2="284.7" stroke="#e48ee4" stroke-width="6.8"/><g opacity="0.55"><line x1="404.5" y1="300.0" x2="371.6" y2="292.4" stroke="#66b8f2" stroke-width="2.0"/><line x1="371.6" y1="292.4" x2="338.6" y2="284.7" stroke="#fcc8fc" stroke-width="2.0"/></g></g><g><line x1="404.5" y1="337.0" x2="371.6" y2="315.8" stroke="#e48ee4" stroke-width="6.8"/><line x1="371.6" y1="315.8" x2="338.6" y2="294.5" stroke="#2a80d2" stroke-width="6.8"/><g opacity="0.55"><line x1="404.5" y1="337.0" x2="371.6" y2="315.8" stroke="#fcc8fc" stroke-width="2.0"/><line x1="371.6" y1="315.8" x2="338.6" y2="294.5" stroke="#66b8f2" stroke-width="2.0"/></g></g><g><line x1="338.6" y1="77.5" x2="338.6" y2="114.9" stroke="#2a80d2" stroke-width="6.8"/><line x1="338.6" y1="114.9" x2="338.6" y2="152.3" stroke="#e48ee4" stroke-width="6.8"/><g opacity="0.55"><line x1="338.6" y1="77.5" x2="338.6" y2="114.9" stroke="#66b8f2" stroke-width="2.0"/><line x1="338.6" y1="114.9" x2="338.6" y2="152.3" stroke="#fcc8fc" stroke-width="2.0"/></g></g><g><line x1="338.6" y1="152.3" x2="338.6" y2="207.1" stroke="#2a80d2" stroke-width="6.8"/><line x1="338.6" y1="207.1" x2="338.6" y2="252.0" stroke="#e48ee4" stroke-width="6.8"/><g opacity="0.55"><line x1="338.6" y1="152.3" x2="338.6" y2="207.1" stroke="#66b8f2" stroke-width="2.0"/><line x1="338.6" y1="207.1" x2="338.6" y2="252.0" stroke="#fcc8fc" stroke-width="2.0"/></g></g><g><line x1="140.7" y1="67.0" x2="140.7" y2="125.3" stroke="#2a80d2" stroke-width="6.8"/><line x1="140.7" y1="125.3" x2="140.7" y2="161.0" stroke="#e48ee4" stroke-width="6.8"/><g opacity="0.55"><line x1="140.7" y1="67.0" x2="140.7" y2="125.3" stroke="#66b8f2" stroke-width="2.0"/><line x1="140.7" y1="125.3" x2="140.7" y2="161.0" stroke="#fcc8fc" stroke-width="2.0"/></g></g><g><line x1="140.7" y1="172.0" x2="140.7" y2="201.5" stroke="#e48ee4" stroke-width="6.8"/><line x1="140.7" y1="201.5" x2="140.7" y2="237.5" stroke="#2a80d2" stroke-width="6.8"/><g opacity="0.55"><line x1="140.7" y1="172.0" x2="140.7" y2="201.5" stroke="#fcc8fc" stroke-width="2.0"/><line x1="140.7" y1="201.5" x2="140.7" y2="237.5" stroke="#66b8f2" stroke-width="2.0"/></g></g><g><line x1="140.7" y1="237.5" x2="140.7" y2="287.5" stroke="#2a80d2" stroke-width="6.8"/><line x1="140.7" y1="287.5" x2="140.7" y2="300.0" stroke="#e48ee4" stroke-width="6.8"/><g opacity="0.55"><line x1="140.7" y1="237.5" x2="140.7" y2="287.5" stroke="#66b8f2" stroke-width="2.0"/><line x1="140.7" y1="287.5" x2="140.7" y2="300.0" stroke="#fcc8fc" stroke-width="2.0"/></g></g><g><line x1="140.7" y1="300.0" x2="140.7" y2="318.5" stroke="#2a80d2" stroke-width="6.8"/><line x1="140.7" y1="318.5" x2="140.7" y2="337.0" stroke="#e48ee4" stroke-width="6.8"/><g opacity="0.55"><line x1="140.7" y1="300.0" x2="140.7" y2="318.5" stroke="#66b8f2" stroke-width="2.0"/><line x1="140.7" y1="318.5" x2="140.7" y2="337.0" stroke="#fcc8fc" stroke-width="2.0"/></g></g><g><line x1="272.7" y1="67.0" x2="272.7" y2="125.3" stroke="#2a80d2" stroke-width="6.8"/><line x1="272.7" y1="125.3" x2="272.7" y2="161.0" stroke="#e48ee4" stroke-width="6.8"/><g opacity="0.55"><line x1="272.7" y1="67.0" x2="272.7" y2="125.3" stroke="#66b8f2" stroke-width="2.0"/><line x1="272.7" y1="125.3" x2="272.7" y2="161.0" stroke="#fcc8fc" stroke-width="2.0"/></g></g><g><line x1="272.7" y1="172.0" x2="272.7" y2="201.5" stroke="#e48ee4" stroke-width="6.8"/><line x1="272.7" y1="201.5" x2="272.7" y2="237.5" stroke="#2a80d2" stroke-width="6.8"/><g opacity="0.55"><line x1="272.7" y1="172.0" x2="272.7" y2="201.5" stroke="#fcc8fc" stroke-width="2.0"/><line x1="272.7" y1="201.5" x2="272.7" y2="237.5" stroke="#66b8f2" stroke-width="2.0"/></g></g><g><line x1="272.7" y1="237.5" x2="272.7" y2="287.5" stroke="#2a80d2" stroke-width="6.8"/><line x1="272.7" y1="287.5" x2="272.7" y2="300.0" stroke="#e48ee4" stroke-width="6.8"/><g opacity="0.55"><line x1="272.7" y1="237.5" x2="272.7" y2="287.5" stroke="#66b8f2" stroke-width="2.0"/><line x1="272.7" y1="287.5" x2="272.7" y2="300.0" stroke="#fcc8fc" stroke-width="2.0"/></g></g><g><line x1="272.7" y1="300.0" x2="272.7" y2="318.5" stroke="#2a80d2" stroke-width="6.8"/><line x1="272.7" y1="318.5" x2="272.7" y2="337.0" stroke="#e48ee4" stroke-width="6.8"/><g opacity="0.55"><line x1="272.7" y1="300.0" x2="272.7" y2="318.5" stroke="#66b8f2" stroke-width="2.0"/><line x1="272.7" y1="318.5" x2="272.7" y2="337.0" stroke="#fcc8fc" stroke-width="2.0"/></g></g><g><line x1="404.5" y1="67.0" x2="404.5" y2="125.3" stroke="#2a80d2" stroke-width="6.8"/><line x1="404.5" y1="125.3" x2="404.5" y2="161.0" stroke="#e48ee4" stroke-width="6.8"/><g opacity="0.55"><line x1="404.5" y1="67.0" x2="404.5" y2="125.3" stroke="#66b8f2" stroke-width="2.0"/><line x1="404.5" y1="125.3" x2="404.5" y2="161.0" stroke="#fcc8fc" stroke-width="2.0"/></g></g><g><line x1="404.5" y1="172.0" x2="404.5" y2="201.5" stroke="#e48ee4" stroke-width="6.8"/><line x1="404.5" y1="201.5" x2="404.5" y2="237.5" stroke="#2a80d2" stroke-width="6.8"/><g opacity="0.55"><line x1="404.5" y1="172.0" x2="404.5" y2="201.5" stroke="#fcc8fc" stroke-width="2.0"/><line x1="404.5" y1="201.5" x2="404.5" y2="237.5" stroke="#66b8f2" stroke-width="2.0"/></g></g><g><line x1="404.5" y1="237.5" x2="404.5" y2="287.5" stroke="#2a80d2" stroke-width="6.8"/><line x1="404.5" y1="287.5" x2="404.5" y2="300.0" stroke="#e48ee4" stroke-width="6.8"/><g opacity="0.55"><line x1="404.5" y1="237.5" x2="404.5" y2="287.5" stroke="#66b8f2" stroke-width="2.0"/><line x1="404.5" y1="287.5" x2="404.5" y2="300.0" stroke="#fcc8fc" stroke-width="2.0"/></g></g><g><line x1="404.5" y1="300.0" x2="404.5" y2="318.5" stroke="#2a80d2" stroke-width="6.8"/><line x1="404.5" y1="318.5" x2="404.5" y2="337.0" stroke="#e48ee4" stroke-width="6.8"/><g opacity="0.55"><line x1="404.5" y1="300.0" x2="404.5" y2="318.5" stroke="#66b8f2" stroke-width="2.0"/><line x1="404.5" y1="318.5" x2="404.5" y2="337.0" stroke="#fcc8fc" stroke-width="2.0"/></g></g><circle cx="140.7" cy="67.0" r="18.6" fill="url(#gP)"/><circle cx="272.7" cy="67.0" r="18.6" fill="url(#gP)"/><circle cx="404.5" cy="67.0" r="18.6" fill="url(#gP)"/><circle cx="206.8" cy="77.5" r="22.7" fill="url(#gB)"/><circle cx="338.6" cy="77.5" r="22.7" fill="url(#gB)"/><circle cx="206.8" cy="152.3" r="16.7" fill="url(#gY)"/><circle cx="338.6" cy="152.3" r="18.0" fill="url(#gP)"/><circle cx="140.7" cy="161.0" r="18.3" fill="url(#gP)"/><circle cx="272.7" cy="161.0" r="18.3" fill="url(#gP)"/><circle cx="404.5" cy="161.0" r="18.3" fill="url(#gP)"/><circle cx="140.7" cy="237.5" r="22.5" fill="url(#gB)"/><circle cx="272.7" cy="237.5" r="22.5" fill="url(#gB)"/><circle cx="404.5" cy="237.5" r="22.5" fill="url(#gB)"/><circle cx="206.8" cy="252.0" r="17.5" fill="url(#gP)"/><circle cx="206.8" cy="284.7" r="17.5" fill="url(#gP)"/><circle cx="338.6" cy="252.0" r="17.5" fill="url(#gP)"/><circle cx="338.6" cy="284.7" r="17.5" fill="url(#gP)"/><circle cx="140.7" cy="300.0" r="22.5" fill="url(#gB)"/><circle cx="140.7" cy="337.0" r="17.5" fill="url(#gP)"/><circle cx="272.7" cy="300.0" r="22.5" fill="url(#gB)"/><circle cx="272.7" cy="337.0" r="17.5" fill="url(#gP)"/><circle cx="404.5" cy="300.0" r="22.5" fill="url(#gB)"/><circle cx="404.5" cy="337.0" r="17.5" fill="url(#gP)"/><line x1="206.8" y1="259" x2="206.8" y2="268" stroke="#b864b8" stroke-width="6" stroke-linecap="round"/><line x1="206.8" y1="260" x2="206.8" y2="268" stroke="#d890d8" stroke-width="2" stroke-linecap="round" opacity="0.6"/><line x1="338.6" y1="259" x2="338.6" y2="268" stroke="#b864b8" stroke-width="6" stroke-linecap="round"/><line x1="338.6" y1="260" x2="338.6" y2="268" stroke="#d890d8" stroke-width="2" stroke-linecap="round" opacity="0.6"/><g stroke="#b4b4b4" stroke-width="1.3" stroke-dasharray="6,4" fill="none" opacity="0.9"><path d="M140.7,45.2 H404.5 M140.7,353.7 H404.5 M140.7,45.2 V353.7 M404.5,45.2 V353.7"/></g><text x="272.4" y="255.6" text-anchor="middle" font-family='"Liberation Serif", serif' font-size="50" fill="#00ff00" stroke="#00ff00" stroke-width="1.6">W</text><line x1="25.0" y1="337.0" x2="25.0" y2="297.3" stroke="#1ee01e" stroke-width="4.6"/><line x1="25.0" y1="337.0" x2="25.0" y2="297.3" stroke="#b0ffb0" stroke-width="1.4" opacity="0.45"/><path d="M25.0,278.3 L32.5,297.3 L17.5,297.3 Z" fill="#1ee01e"/><path d="M25.0,278.3 L25.0,297.3 L17.5,297.3 Z" fill="#12b812"/><line x1="25.0" y1="337.0" x2="64.7" y2="337.0" stroke="#ee1a1a" stroke-width="4.6"/><line x1="25.0" y1="337.0" x2="64.7" y2="337.0" stroke="#ffb0b0" stroke-width="1.4" opacity="0.45"/><path d="M83.7,337.0 L64.7,344.5 L64.7,329.5 Z" fill="#ee1a1a"/><path d="M83.7,337.0 L64.7,337.0 L64.7,329.5 Z" fill="#c40a0a"/><circle cx="25.0" cy="337.0" r="7.0" fill="#0a0a8a"/><text x="25.0" y="340.9" text-anchor="middle" font-family='"Liberation Serif", serif' font-style="italic" font-weight="bold" font-size="14.0" fill="#fff" stroke="#000" stroke-width="0.4">c</text><text x="25.3" y="270.2" text-anchor="middle" font-family='"Liberation Sans", sans-serif' font-weight="bold" font-size="13.0">b</text><text x="97.2" y="341.8" text-anchor="middle" font-family='"Liberation Sans", sans-serif' font-weight="bold" font-size="13.0">a</text><defs><filter id="cmapf" filterUnits="userSpaceOnUse" x="900" y="30" width="340" height="700" color-interpolation-filters="sRGB"><feGaussianBlur stdDeviation="4.00"/><feComponentTransfer><feFuncR type="table" tableValues="0.000 0.000 0.000 0.000 0.000 0.000 0.000 0.000 0.000 0.000 0.000 0.000 0.000 0.000 0.000 0.000 0.011 0.022 0.034 0.045 0.056 0.067 0.078 0.084 0.090 0.095 0.101 0.106 0.112 0.118 0.134 0.151 0.168 0.185 0.202 0.218 0.235 0.286 0.336 0.387 0.437 0.487 0.538 0.588 0.622 0.655 0.689 0.723 0.756 0.790 0.824 0.841 0.858 0.875 0.892 0.909 0.926 0.944 0.961 0.966 0.972 0.978 0.983 0.989 0.994 1.000 1.000 1.000 1.000 1.000 1.000 1.000 1.000 1.000 1.000 1.000 1.000 1.000 1.000 1.000 1.000 1.000 1.000 1.000 1.000 1.000 1.000 1.000 1.000 1.000 1.000 1.000 1.000 1.000 1.000 1.000 1.000 1.000 1.000 1.000 1.000"/><feFuncG type="table" tableValues="0.196 0.196 0.196 0.196 0.196 0.196 0.196 0.196 0.196 0.196 0.196 0.196 0.196 0.196 0.196 0.196 0.230 0.263 0.297 0.331 0.364 0.398 0.431 0.459 0.487 0.515 0.543 0.571 0.599 0.627 0.650 0.672 0.695 0.717 0.739 0.762 0.784 0.801 0.818 0.835 0.852 0.868 0.885 0.902 0.909 0.915 0.922 0.929 0.936 0.942 0.949 0.950 0.952 0.953 0.955 0.956 0.958 0.959 0.961 0.936 0.910 0.885 0.860 0.835 0.810 0.784 0.745 0.706 0.667 0.627 0.588 0.549 0.503 0.458 0.412 0.366 0.320 0.275 0.275 0.275 0.275 0.275 0.275 0.275 0.275 0.275 0.275 0.275 0.275 0.275 0.275 0.275 0.275 0.275 0.275 0.275 0.275 0.275 0.275 0.275 0.275"/><feFuncB type="table" tableValues="1.000 1.000 1.000 1.000 1.000 1.000 1.000 1.000 1.000 1.000 1.000 1.000 1.000 1.000 1.000 1.000 0.964 0.927 0.891 0.854 0.818 0.782 0.745 0.706 0.667 0.627 0.588 0.549 0.510 0.471 0.437 0.403 0.370 0.336 0.303 0.269 0.235 0.213 0.190 0.168 0.146 0.123 0.101 0.078 0.067 0.056 0.045 0.034 0.022 0.011 0.000 0.000 0.000 0.000 0.000 0.000 0.000 0.000 0.000 0.011 0.022 0.034 0.045 0.056 0.067 0.078 0.098 0.118 0.137 0.157 0.176 0.196 0.209 0.222 0.235 0.248 0.261 0.275 0.275 0.275 0.275 0.275 0.275 0.275 0.275 0.275 0.275 0.275 0.275 0.275 0.275 0.275 0.275 0.275 0.275 0.275 0.275 0.275 0.275 0.275 0.275"/><feFuncA type="identity"/></feComponentTransfer></filter><linearGradient id="cbar" x1="0" y1="0" x2="0" y2="1"><stop offset="0.00" stop-color="#ff3010"/><stop offset="0.25" stop-color="#ff7a00"/><stop offset="0.38" stop-color="#ffb000"/><stop offset="0.50" stop-color="#ffff00"/><stop offset="0.62" stop-color="#b8e028"/><stop offset="0.75" stop-color="#40c040"/><stop offset="0.87" stop-color="#228a7c"/><stop offset="1.00" stop-color="#0010ff"/></linearGradient></defs><clipPath id="clipU"><rect x="942.0" y="70.0" width="258.0" height="304.0"/></clipPath><g clip-path="url(#clipU)"><g filter="url(#cmapf)"><rect x="922.0" y="50.0" width="298.0" height="344.0" fill="rgb(120,120,120)"/><rect x="932.0" y="130.0" width="280.0" height="72.0" fill="rgb(103,103,103)"/><rect x="932.0" y="65.0" width="280.0" height="28.0" fill="rgb(112,112,112)"/><rect x="932.0" y="352.0" width="280.0" height="30.0" fill="rgb(110,110,110)"/><ellipse cx="974.0" cy="67.0" rx="16.5" ry="12.0" fill="rgb(158,158,158)"/><ellipse cx="1071.8" cy="67.0" rx="16.5" ry="12.0" fill="rgb(158,158,158)"/><ellipse cx="1170.0" cy="67.0" rx="16.5" ry="12.0" fill="rgb(158,158,158)"/><ellipse cx="960.0" cy="84.5" rx="18.0" ry="14.3" fill="rgb(87,87,87)"/><ellipse cx="986.0" cy="84.5" rx="18.0" ry="14.3" fill="rgb(87,87,87)"/><ellipse cx="1057.8" cy="84.5" rx="18.0" ry="14.3" fill="rgb(87,87,87)"/><ellipse cx="1083.8" cy="84.5" rx="18.0" ry="14.3" fill="rgb(87,87,87)"/><ellipse cx="1156.0" cy="84.5" rx="18.0" ry="14.3" fill="rgb(87,87,87)"/><ellipse cx="1182.0" cy="84.5" rx="18.0" ry="14.3" fill="rgb(87,87,87)"/><ellipse cx="946.0" cy="109.5" rx="21.0" ry="20.5" fill="rgb(158,158,158)"/><ellipse cx="996.0" cy="109.5" rx="21.0" ry="20.5" fill="rgb(158,158,158)"/><ellipse cx="1046.0" cy="109.5" rx="21.0" ry="20.5" fill="rgb(158,158,158)"/><ellipse cx="1095.5" cy="109.5" rx="21.0" ry="20.5" fill="rgb(158,158,158)"/><ellipse cx="1145.5" cy="109.5" rx="21.0" ry="20.5" fill="rgb(158,158,158)"/><ellipse cx="1195.0" cy="109.5" rx="21.0" ry="20.5" fill="rgb(158,158,158)"/><ellipse cx="1021.5" cy="167.0" rx="20.0" ry="17.0" fill="rgb(158,158,158)"/><ellipse cx="1119.3" cy="164.0" rx="23.0" ry="20.0" fill="rgb(158,158,158)"/><ellipse cx="1103.0" cy="188.0" rx="11.0" ry="12.5" fill="rgb(87,87,87)"/><ellipse cx="1137.0" cy="188.0" rx="11.5" ry="11.5" fill="rgb(87,87,87)"/><ellipse cx="943.0" cy="184.0" rx="9.5" ry="10.5" fill="rgb(87,87,87)"/><ellipse cx="1199.0" cy="184.0" rx="9.5" ry="10.5" fill="rgb(87,87,87)"/><ellipse cx="1005.0" cy="211.0" rx="18.5" ry="16.5" fill="rgb(158,158,158)"/><ellipse cx="1040.0" cy="211.0" rx="18.5" ry="16.5" fill="rgb(158,158,158)"/><ellipse cx="1022.5" cy="222.0" rx="20.5" ry="14.0" fill="rgb(158,158,158)"/><ellipse cx="1097.5" cy="211.0" rx="22.0" ry="20.5" fill="rgb(158,158,158)"/><ellipse cx="1143.5" cy="211.0" rx="22.0" ry="20.5" fill="rgb(158,158,158)"/><ellipse cx="1120.5" cy="225.0" rx="26.5" ry="16.0" fill="rgb(158,158,158)"/><ellipse cx="946.0" cy="213.0" rx="23.5" ry="22.5" fill="rgb(158,158,158)"/><ellipse cx="1201.0" cy="211.0" rx="17.5" ry="18.5" fill="rgb(158,158,158)"/><ellipse cx="975.5" cy="218.0" rx="13.0" ry="11.5" fill="rgb(87,87,87)"/><ellipse cx="1065.3" cy="217.0" rx="11.5" ry="11.0" fill="rgb(87,87,87)"/><ellipse cx="950.0" cy="254.5" rx="20.0" ry="24.0" fill="rgb(87,87,87)"/><ellipse cx="998.5" cy="242.0" rx="17.0" ry="21.5" fill="rgb(87,87,87)"/><ellipse cx="1046.0" cy="242.5" rx="16.5" ry="21.0" fill="rgb(87,87,87)"/><ellipse cx="1093.5" cy="255.0" rx="17.0" ry="23.0" fill="rgb(87,87,87)"/><ellipse cx="1146.7" cy="255.0" rx="20.2" ry="23.0" fill="rgb(87,87,87)"/><ellipse cx="1193.0" cy="241.0" rx="16.5" ry="21.5" fill="rgb(87,87,87)"/><ellipse cx="973.0" cy="292.3" rx="28.0" ry="20.0" fill="rgb(158,158,158)"/><ellipse cx="1070.8" cy="292.3" rx="28.0" ry="20.0" fill="rgb(158,158,158)"/><ellipse cx="1169.0" cy="292.3" rx="28.0" ry="20.0" fill="rgb(158,158,158)"/><ellipse cx="956.5" cy="316.5" rx="17.0" ry="14.0" fill="rgb(87,87,87)"/><ellipse cx="989.5" cy="316.0" rx="17.0" ry="13.5" fill="rgb(87,87,87)"/><ellipse cx="1054.3" cy="316.5" rx="17.0" ry="14.0" fill="rgb(87,87,87)"/><ellipse cx="1087.3" cy="316.0" rx="17.0" ry="13.5" fill="rgb(87,87,87)"/><ellipse cx="1152.5" cy="316.5" rx="17.0" ry="14.0" fill="rgb(87,87,87)"/><ellipse cx="1185.5" cy="316.0" rx="17.0" ry="13.5" fill="rgb(87,87,87)"/><ellipse cx="946.0" cy="343.5" rx="20.0" ry="17.0" fill="rgb(158,158,158)"/><ellipse cx="996.0" cy="343.5" rx="20.0" ry="17.0" fill="rgb(158,158,158)"/><ellipse cx="1046.0" cy="343.5" rx="20.0" ry="17.0" fill="rgb(158,158,158)"/><ellipse cx="1096.4" cy="343.5" rx="20.0" ry="17.0" fill="rgb(158,158,158)"/><ellipse cx="1146.0" cy="343.5" rx="20.0" ry="17.0" fill="rgb(158,158,158)"/><ellipse cx="1196.0" cy="343.5" rx="20.0" ry="17.0" fill="rgb(158,158,158)"/><ellipse cx="973.0" cy="172.0" rx="27.0" ry="25.0" fill="rgb(92,92,92)"/><ellipse cx="973.0" cy="174.0" rx="13.0" ry="13.0" fill="rgb(82,82,82)"/><ellipse cx="1070.8" cy="172.0" rx="27.0" ry="25.0" fill="rgb(92,92,92)"/><ellipse cx="1070.8" cy="174.0" rx="13.0" ry="13.0" fill="rgb(82,82,82)"/><ellipse cx="1169.0" cy="172.0" rx="27.0" ry="25.0" fill="rgb(92,92,92)"/><ellipse cx="1169.0" cy="174.0" rx="13.0" ry="13.0" fill="rgb(82,82,82)"/><ellipse cx="1022.0" cy="268.0" rx="11.0" ry="26.0" fill="rgb(153,153,153)"/><ellipse cx="1120.0" cy="268.0" rx="11.0" ry="26.0" fill="rgb(153,153,153)"/><ellipse cx="1022.0" cy="82.0" rx="24.0" ry="14.0" fill="rgb(99,99,99)"/><ellipse cx="1120.0" cy="82.0" rx="24.0" ry="14.0" fill="rgb(99,99,99)"/><ellipse cx="926.0" cy="82.0" rx="14.0" ry="12.0" fill="rgb(102,102,102)"/><ellipse cx="1216.0" cy="82.0" rx="14.0" ry="12.0" fill="rgb(102,102,102)"/><ellipse cx="974.0" cy="67.0" rx="11.0" ry="6.5" fill="rgb(255,255,255)"/><ellipse cx="1071.8" cy="67.0" rx="11.0" ry="6.5" fill="rgb(255,255,255)"/><ellipse cx="1170.0" cy="67.0" rx="11.0" ry="6.5" fill="rgb(255,255,255)"/><ellipse cx="960.0" cy="84.5" rx="12.5" ry="8.8" fill="rgb(0,0,0)"/><ellipse cx="986.0" cy="84.5" rx="12.5" ry="8.8" fill="rgb(0,0,0)"/><ellipse cx="1057.8" cy="84.5" rx="12.5" ry="8.8" fill="rgb(0,0,0)"/><ellipse cx="1083.8" cy="84.5" rx="12.5" ry="8.8" fill="rgb(0,0,0)"/><ellipse cx="1156.0" cy="84.5" rx="12.5" ry="8.8" fill="rgb(0,0,0)"/><ellipse cx="1182.0" cy="84.5" rx="12.5" ry="8.8" fill="rgb(0,0,0)"/><ellipse cx="946.0" cy="109.5" rx="15.5" ry="15.0" fill="rgb(255,255,255)"/><ellipse cx="996.0" cy="109.5" rx="15.5" ry="15.0" fill="rgb(255,255,255)"/><ellipse cx="1046.0" cy="109.5" rx="15.5" ry="15.0" fill="rgb(255,255,255)"/><ellipse cx="1095.5" cy="109.5" rx="15.5" ry="15.0" fill="rgb(255,255,255)"/><ellipse cx="1145.5" cy="109.5" rx="15.5" ry="15.0" fill="rgb(255,255,255)"/><ellipse cx="1195.0" cy="109.5" rx="15.5" ry="15.0" fill="rgb(255,255,255)"/><ellipse cx="1021.5" cy="134.0" rx="15.0" ry="10.0" fill="rgb(56,56,56)"/><ellipse cx="1119.5" cy="132.0" rx="15.0" ry="10.0" fill="rgb(56,56,56)"/><ellipse cx="1021.5" cy="167.0" rx="14.5" ry="11.5" fill="rgb(255,255,255)"/><ellipse cx="1119.3" cy="164.0" rx="17.5" ry="14.5" fill="rgb(255,255,255)"/><ellipse cx="1103.0" cy="188.0" rx="5.5" ry="7.0" fill="rgb(0,0,0)"/><ellipse cx="1137.0" cy="188.0" rx="6.0" ry="6.0" fill="rgb(0,0,0)"/><ellipse cx="943.0" cy="184.0" rx="4.0" ry="5.0" fill="rgb(0,0,0)"/><ellipse cx="1199.0" cy="184.0" rx="4.0" ry="5.0" fill="rgb(0,0,0)"/><ellipse cx="1005.0" cy="211.0" rx="13.0" ry="11.0" fill="rgb(255,255,255)"/><ellipse cx="1040.0" cy="211.0" rx="13.0" ry="11.0" fill="rgb(255,255,255)"/><ellipse cx="1022.5" cy="222.0" rx="15.0" ry="8.5" fill="rgb(255,255,255)"/><ellipse cx="1097.5" cy="211.0" rx="16.5" ry="15.0" fill="rgb(255,255,255)"/><ellipse cx="1143.5" cy="211.0" rx="16.5" ry="15.0" fill="rgb(255,255,255)"/><ellipse cx="1120.5" cy="225.0" rx="21.0" ry="10.5" fill="rgb(255,255,255)"/><ellipse cx="946.0" cy="213.0" rx="18.0" ry="17.0" fill="rgb(255,255,255)"/><ellipse cx="1201.0" cy="211.0" rx="12.0" ry="13.0" fill="rgb(255,255,255)"/><ellipse cx="975.5" cy="218.0" rx="7.5" ry="6.0" fill="rgb(0,0,0)"/><ellipse cx="1065.3" cy="217.0" rx="6.0" ry="5.5" fill="rgb(0,0,0)"/><ellipse cx="950.0" cy="254.5" rx="14.5" ry="18.5" fill="rgb(0,0,0)"/><ellipse cx="998.5" cy="242.0" rx="11.5" ry="16.0" fill="rgb(0,0,0)"/><ellipse cx="1046.0" cy="242.5" rx="11.0" ry="15.5" fill="rgb(0,0,0)"/><ellipse cx="1093.5" cy="255.0" rx="11.5" ry="17.5" fill="rgb(0,0,0)"/><ellipse cx="1146.7" cy="255.0" rx="14.7" ry="17.5" fill="rgb(0,0,0)"/><ellipse cx="1193.0" cy="241.0" rx="11.0" ry="16.0" fill="rgb(0,0,0)"/><ellipse cx="1022.0" cy="262.0" rx="7.5" ry="13.0" fill="rgb(189,189,189)"/><ellipse cx="1120.7" cy="262.0" rx="7.5" ry="13.0" fill="rgb(189,189,189)"/><ellipse cx="973.0" cy="292.3" rx="22.5" ry="14.5" fill="rgb(255,255,255)"/><ellipse cx="1070.8" cy="292.3" rx="22.5" ry="14.5" fill="rgb(255,255,255)"/><ellipse cx="1169.0" cy="292.3" rx="22.5" ry="14.5" fill="rgb(255,255,255)"/><ellipse cx="1021.0" cy="301.0" rx="14.0" ry="11.0" fill="rgb(64,64,64)"/><ellipse cx="1119.4" cy="299.6" rx="14.0" ry="11.0" fill="rgb(64,64,64)"/><ellipse cx="956.5" cy="316.5" rx="11.5" ry="8.5" fill="rgb(0,0,0)"/><ellipse cx="989.5" cy="316.0" rx="11.5" ry="8.0" fill="rgb(0,0,0)"/><ellipse cx="1054.3" cy="316.5" rx="11.5" ry="8.5" fill="rgb(0,0,0)"/><ellipse cx="1087.3" cy="316.0" rx="11.5" ry="8.0" fill="rgb(0,0,0)"/><ellipse cx="1152.5" cy="316.5" rx="11.5" ry="8.5" fill="rgb(0,0,0)"/><ellipse cx="1185.5" cy="316.0" rx="11.5" ry="8.0" fill="rgb(0,0,0)"/><ellipse cx="946.0" cy="343.5" rx="14.5" ry="11.5" fill="rgb(255,255,255)"/><ellipse cx="996.0" cy="343.5" rx="14.5" ry="11.5" fill="rgb(255,255,255)"/><ellipse cx="1046.0" cy="343.5" rx="14.5" ry="11.5" fill="rgb(255,255,255)"/><ellipse cx="1096.4" cy="343.5" rx="14.5" ry="11.5" fill="rgb(255,255,255)"/><ellipse cx="1146.0" cy="343.5" rx="14.5" ry="11.5" fill="rgb(255,255,255)"/><ellipse cx="1196.0" cy="343.5" rx="14.5" ry="11.5" fill="rgb(255,255,255)"/><ellipse cx="1021.0" cy="369.0" rx="13.0" ry="9.0" fill="rgb(64,64,64)"/><ellipse cx="1119.4" cy="367.0" rx="13.0" ry="9.0" fill="rgb(64,64,64)"/><ellipse cx="973.0" cy="366.0" rx="5.0" ry="10.0" fill="rgb(92,92,92)"/><ellipse cx="1070.8" cy="366.0" rx="5.0" ry="10.0" fill="rgb(92,92,92)"/><ellipse cx="1169.0" cy="366.0" rx="5.0" ry="10.0" fill="rgb(92,92,92)"/></g></g><circle cx="1022.0" cy="192.7" r="15" fill="url(#mY)"/><circle cx="1120.0" cy="192.7" r="15" fill="url(#mP)"/><circle cx="973.4" cy="248.0" r="15" fill="url(#mB)"/><circle cx="973.4" cy="325.2" r="15" fill="url(#mP)"/><circle cx="1070.3" cy="248.0" r="15" fill="url(#mB)"/><circle cx="1070.3" cy="325.2" r="15" fill="url(#mP)"/><circle cx="1169.1" cy="248.0" r="15" fill="url(#mB)"/><circle cx="1169.1" cy="325.2" r="15" fill="url(#mP)"/><rect x="941.6" y="69.6" width="258.8" height="304.8" fill="none" stroke="#2a3cb0" stroke-width="1.2"/><clipPath id="clipL"><rect x="942.0" y="383.2" width="258.0" height="304.0"/></clipPath><g clip-path="url(#clipL)"><g filter="url(#cmapf)"><rect x="922.0" y="363.2" width="298.0" height="344.0" fill="rgb(120,120,120)"/><rect x="932.0" y="443.2" width="280.0" height="72.0" fill="rgb(103,103,103)"/><rect x="932.0" y="378.2" width="280.0" height="28.0" fill="rgb(112,112,112)"/><rect x="932.0" y="665.2" width="280.0" height="30.0" fill="rgb(110,110,110)"/><ellipse cx="974.0" cy="380.2" rx="16.5" ry="12.0" fill="rgb(158,158,158)"/><ellipse cx="1071.8" cy="380.2" rx="16.5" ry="12.0" fill="rgb(158,158,158)"/><ellipse cx="1170.0" cy="380.2" rx="16.5" ry="12.0" fill="rgb(158,158,158)"/><ellipse cx="960.0" cy="397.7" rx="18.0" ry="14.3" fill="rgb(87,87,87)"/><ellipse cx="986.0" cy="397.7" rx="18.0" ry="14.3" fill="rgb(87,87,87)"/><ellipse cx="1057.8" cy="397.7" rx="18.0" ry="14.3" fill="rgb(87,87,87)"/><ellipse cx="1083.8" cy="397.7" rx="18.0" ry="14.3" fill="rgb(87,87,87)"/><ellipse cx="1156.0" cy="397.7" rx="18.0" ry="14.3" fill="rgb(87,87,87)"/><ellipse cx="1182.0" cy="397.7" rx="18.0" ry="14.3" fill="rgb(87,87,87)"/><ellipse cx="946.0" cy="422.7" rx="21.0" ry="20.5" fill="rgb(158,158,158)"/><ellipse cx="996.0" cy="422.7" rx="21.0" ry="20.5" fill="rgb(158,158,158)"/><ellipse cx="1046.0" cy="422.7" rx="21.0" ry="20.5" fill="rgb(158,158,158)"/><ellipse cx="1095.5" cy="422.7" rx="21.0" ry="20.5" fill="rgb(158,158,158)"/><ellipse cx="1145.5" cy="422.7" rx="21.0" ry="20.5" fill="rgb(158,158,158)"/><ellipse cx="1195.0" cy="422.7" rx="21.0" ry="20.5" fill="rgb(158,158,158)"/><ellipse cx="1022.9" cy="476.2" rx="23.0" ry="20.0" fill="rgb(158,158,158)"/><ellipse cx="1119.3" cy="477.2" rx="23.0" ry="20.0" fill="rgb(158,158,158)"/><ellipse cx="1103.0" cy="501.2" rx="11.0" ry="12.5" fill="rgb(87,87,87)"/><ellipse cx="1137.0" cy="501.2" rx="11.5" ry="11.5" fill="rgb(87,87,87)"/><ellipse cx="943.0" cy="497.2" rx="9.5" ry="10.5" fill="rgb(87,87,87)"/><ellipse cx="1199.0" cy="497.2" rx="9.5" ry="10.5" fill="rgb(87,87,87)"/><ellipse cx="1004.0" cy="502.2" rx="11.0" ry="12.0" fill="rgb(87,87,87)"/><ellipse cx="1039.0" cy="502.2" rx="11.0" ry="12.0" fill="rgb(87,87,87)"/><ellipse cx="999.0" cy="524.2" rx="22.0" ry="20.5" fill="rgb(158,158,158)"/><ellipse cx="1045.0" cy="524.2" rx="22.0" ry="20.5" fill="rgb(158,158,158)"/><ellipse cx="1022.0" cy="538.2" rx="26.5" ry="16.0" fill="rgb(158,158,158)"/><ellipse cx="1097.5" cy="524.2" rx="22.0" ry="20.5" fill="rgb(158,158,158)"/><ellipse cx="1143.5" cy="524.2" rx="22.0" ry="20.5" fill="rgb(158,158,158)"/><ellipse cx="1120.5" cy="538.2" rx="26.5" ry="16.0" fill="rgb(158,158,158)"/><ellipse cx="946.0" cy="526.2" rx="23.5" ry="22.5" fill="rgb(158,158,158)"/><ellipse cx="1201.0" cy="524.2" rx="17.5" ry="18.5" fill="rgb(158,158,158)"/><ellipse cx="975.5" cy="531.2" rx="13.0" ry="11.5" fill="rgb(87,87,87)"/><ellipse cx="1065.3" cy="530.2" rx="11.5" ry="11.0" fill="rgb(87,87,87)"/><ellipse cx="950.0" cy="567.7" rx="20.0" ry="24.0" fill="rgb(87,87,87)"/><ellipse cx="998.5" cy="555.2" rx="17.0" ry="21.5" fill="rgb(87,87,87)"/><ellipse cx="1046.0" cy="555.7" rx="16.5" ry="21.0" fill="rgb(87,87,87)"/><ellipse cx="1093.5" cy="568.2" rx="17.0" ry="23.0" fill="rgb(87,87,87)"/><ellipse cx="1146.7" cy="568.2" rx="20.2" ry="23.0" fill="rgb(87,87,87)"/><ellipse cx="1193.0" cy="554.2" rx="16.5" ry="21.5" fill="rgb(87,87,87)"/><ellipse cx="973.0" cy="605.5" rx="28.0" ry="20.0" fill="rgb(158,158,158)"/><ellipse cx="1070.8" cy="605.5" rx="28.0" ry="20.0" fill="rgb(158,158,158)"/><ellipse cx="1169.0" cy="605.5" rx="28.0" ry="20.0" fill="rgb(158,158,158)"/><ellipse cx="956.5" cy="629.7" rx="17.0" ry="14.0" fill="rgb(87,87,87)"/><ellipse cx="989.5" cy="629.2" rx="17.0" ry="13.5" fill="rgb(87,87,87)"/><ellipse cx="1054.3" cy="629.7" rx="17.0" ry="14.0" fill="rgb(87,87,87)"/><ellipse cx="1087.3" cy="629.2" rx="17.0" ry="13.5" fill="rgb(87,87,87)"/><ellipse cx="1152.5" cy="629.7" rx="17.0" ry="14.0" fill="rgb(87,87,87)"/><ellipse cx="1185.5" cy="629.2" rx="17.0" ry="13.5" fill="rgb(87,87,87)"/><ellipse cx="946.0" cy="656.7" rx="20.0" ry="17.0" fill="rgb(158,158,158)"/><ellipse cx="996.0" cy="656.7" rx="20.0" ry="17.0" fill="rgb(158,158,158)"/><ellipse cx="1046.0" cy="656.7" rx="20.0" ry="17.0" fill="rgb(158,158,158)"/><ellipse cx="1096.4" cy="656.7" rx="20.0" ry="17.0" fill="rgb(158,158,158)"/><ellipse cx="1146.0" cy="656.7" rx="20.0" ry="17.0" fill="rgb(158,158,158)"/><ellipse cx="1196.0" cy="656.7" rx="20.0" ry="17.0" fill="rgb(158,158,158)"/><ellipse cx="973.0" cy="485.2" rx="27.0" ry="25.0" fill="rgb(92,92,92)"/><ellipse cx="973.0" cy="487.2" rx="13.0" ry="13.0" fill="rgb(82,82,82)"/><ellipse cx="1070.8" cy="485.2" rx="27.0" ry="25.0" fill="rgb(92,92,92)"/><ellipse cx="1070.8" cy="487.2" rx="13.0" ry="13.0" fill="rgb(82,82,82)"/><ellipse cx="1169.0" cy="485.2" rx="27.0" ry="25.0" fill="rgb(92,92,92)"/><ellipse cx="1169.0" cy="487.2" rx="13.0" ry="13.0" fill="rgb(82,82,82)"/><ellipse cx="1022.0" cy="581.2" rx="11.0" ry="26.0" fill="rgb(153,153,153)"/><ellipse cx="1120.0" cy="581.2" rx="11.0" ry="26.0" fill="rgb(153,153,153)"/><ellipse cx="1022.0" cy="395.2" rx="24.0" ry="14.0" fill="rgb(99,99,99)"/><ellipse cx="1120.0" cy="395.2" rx="24.0" ry="14.0" fill="rgb(99,99,99)"/><ellipse cx="926.0" cy="395.2" rx="14.0" ry="12.0" fill="rgb(102,102,102)"/><ellipse cx="1216.0" cy="395.2" rx="14.0" ry="12.0" fill="rgb(102,102,102)"/><ellipse cx="974.0" cy="380.2" rx="11.0" ry="6.5" fill="rgb(255,255,255)"/><ellipse cx="1071.8" cy="380.2" rx="11.0" ry="6.5" fill="rgb(255,255,255)"/><ellipse cx="1170.0" cy="380.2" rx="11.0" ry="6.5" fill="rgb(255,255,255)"/><ellipse cx="960.0" cy="397.7" rx="12.5" ry="8.8" fill="rgb(0,0,0)"/><ellipse cx="986.0" cy="397.7" rx="12.5" ry="8.8" fill="rgb(0,0,0)"/><ellipse cx="1057.8" cy="397.7" rx="12.5" ry="8.8" fill="rgb(0,0,0)"/><ellipse cx="1083.8" cy="397.7" rx="12.5" ry="8.8" fill="rgb(0,0,0)"/><ellipse cx="1156.0" cy="397.7" rx="12.5" ry="8.8" fill="rgb(0,0,0)"/><ellipse cx="1182.0" cy="397.7" rx="12.5" ry="8.8" fill="rgb(0,0,0)"/><ellipse cx="946.0" cy="422.7" rx="15.5" ry="15.0" fill="rgb(255,255,255)"/><ellipse cx="996.0" cy="422.7" rx="15.5" ry="15.0" fill="rgb(255,255,255)"/><ellipse cx="1046.0" cy="422.7" rx="15.5" ry="15.0" fill="rgb(255,255,255)"/><ellipse cx="1095.5" cy="422.7" rx="15.5" ry="15.0" fill="rgb(255,255,255)"/><ellipse cx="1145.5" cy="422.7" rx="15.5" ry="15.0" fill="rgb(255,255,255)"/><ellipse cx="1195.0" cy="422.7" rx="15.5" ry="15.0" fill="rgb(255,255,255)"/><ellipse cx="1021.5" cy="447.2" rx="15.0" ry="10.0" fill="rgb(56,56,56)"/><ellipse cx="1119.5" cy="445.2" rx="15.0" ry="10.0" fill="rgb(56,56,56)"/><ellipse cx="1022.9" cy="476.2" rx="17.5" ry="14.5" fill="rgb(255,255,255)"/><ellipse cx="1119.3" cy="477.2" rx="17.5" ry="14.5" fill="rgb(255,255,255)"/><ellipse cx="1103.0" cy="501.2" rx="5.5" ry="7.0" fill="rgb(0,0,0)"/><ellipse cx="1137.0" cy="501.2" rx="6.0" ry="6.0" fill="rgb(0,0,0)"/><ellipse cx="943.0" cy="497.2" rx="4.0" ry="5.0" fill="rgb(0,0,0)"/><ellipse cx="1199.0" cy="497.2" rx="4.0" ry="5.0" fill="rgb(0,0,0)"/><ellipse cx="1004.0" cy="502.2" rx="5.5" ry="6.5" fill="rgb(0,0,0)"/><ellipse cx="1039.0" cy="502.2" rx="5.5" ry="6.5" fill="rgb(0,0,0)"/><ellipse cx="999.0" cy="524.2" rx="16.5" ry="15.0" fill="rgb(255,255,255)"/><ellipse cx="1045.0" cy="524.2" rx="16.5" ry="15.0" fill="rgb(255,255,255)"/><ellipse cx="1022.0" cy="538.2" rx="21.0" ry="10.5" fill="rgb(255,255,255)"/><ellipse cx="1097.5" cy="524.2" rx="16.5" ry="15.0" fill="rgb(255,255,255)"/><ellipse cx="1143.5" cy="524.2" rx="16.5" ry="15.0" fill="rgb(255,255,255)"/><ellipse cx="1120.5" cy="538.2" rx="21.0" ry="10.5" fill="rgb(255,255,255)"/><ellipse cx="946.0" cy="526.2" rx="18.0" ry="17.0" fill="rgb(255,255,255)"/><ellipse cx="1201.0" cy="524.2" rx="12.0" ry="13.0" fill="rgb(255,255,255)"/><ellipse cx="975.5" cy="531.2" rx="7.5" ry="6.0" fill="rgb(0,0,0)"/><ellipse cx="1065.3" cy="530.2" rx="6.0" ry="5.5" fill="rgb(0,0,0)"/><ellipse cx="950.0" cy="567.7" rx="14.5" ry="18.5" fill="rgb(0,0,0)"/><ellipse cx="998.5" cy="555.2" rx="11.5" ry="16.0" fill="rgb(0,0,0)"/><ellipse cx="1046.0" cy="555.7" rx="11.0" ry="15.5" fill="rgb(0,0,0)"/><ellipse cx="1093.5" cy="568.2" rx="11.5" ry="17.5" fill="rgb(0,0,0)"/><ellipse cx="1146.7" cy="568.2" rx="14.7" ry="17.5" fill="rgb(0,0,0)"/><ellipse cx="1193.0" cy="554.2" rx="11.0" ry="16.0" fill="rgb(0,0,0)"/><ellipse cx="1022.0" cy="575.2" rx="7.5" ry="13.0" fill="rgb(189,189,189)"/><ellipse cx="1120.7" cy="575.2" rx="7.5" ry="13.0" fill="rgb(189,189,189)"/><ellipse cx="973.0" cy="605.5" rx="22.5" ry="14.5" fill="rgb(255,255,255)"/><ellipse cx="1070.8" cy="605.5" rx="22.5" ry="14.5" fill="rgb(255,255,255)"/><ellipse cx="1169.0" cy="605.5" rx="22.5" ry="14.5" fill="rgb(255,255,255)"/><ellipse cx="1021.0" cy="614.2" rx="14.0" ry="11.0" fill="rgb(64,64,64)"/><ellipse cx="1119.4" cy="612.8" rx="14.0" ry="11.0" fill="rgb(64,64,64)"/><ellipse cx="956.5" cy="629.7" rx="11.5" ry="8.5" fill="rgb(0,0,0)"/><ellipse cx="989.5" cy="629.2" rx="11.5" ry="8.0" fill="rgb(0,0,0)"/><ellipse cx="1054.3" cy="629.7" rx="11.5" ry="8.5" fill="rgb(0,0,0)"/><ellipse cx="1087.3" cy="629.2" rx="11.5" ry="8.0" fill="rgb(0,0,0)"/><ellipse cx="1152.5" cy="629.7" rx="11.5" ry="8.5" fill="rgb(0,0,0)"/><ellipse cx="1185.5" cy="629.2" rx="11.5" ry="8.0" fill="rgb(0,0,0)"/><ellipse cx="946.0" cy="656.7" rx="14.5" ry="11.5" fill="rgb(255,255,255)"/><ellipse cx="996.0" cy="656.7" rx="14.5" ry="11.5" fill="rgb(255,255,255)"/><ellipse cx="1046.0" cy="656.7" rx="14.5" ry="11.5" fill="rgb(255,255,255)"/><ellipse cx="1096.4" cy="656.7" rx="14.5" ry="11.5" fill="rgb(255,255,255)"/><ellipse cx="1146.0" cy="656.7" rx="14.5" ry="11.5" fill="rgb(255,255,255)"/><ellipse cx="1196.0" cy="656.7" rx="14.5" ry="11.5" fill="rgb(255,255,255)"/><ellipse cx="1021.0" cy="682.2" rx="13.0" ry="9.0" fill="rgb(64,64,64)"/><ellipse cx="1119.4" cy="680.2" rx="13.0" ry="9.0" fill="rgb(64,64,64)"/><ellipse cx="973.0" cy="679.2" rx="5.0" ry="10.0" fill="rgb(92,92,92)"/><ellipse cx="1070.8" cy="679.2" rx="5.0" ry="10.0" fill="rgb(92,92,92)"/><ellipse cx="1169.0" cy="679.2" rx="5.0" ry="10.0" fill="rgb(92,92,92)"/></g></g><circle cx="1022.0" cy="505.9" r="15" fill="url(#mP)"/><circle cx="1120.0" cy="505.9" r="15" fill="url(#mP)"/><circle cx="973.4" cy="561.2" r="15" fill="url(#mB)"/><circle cx="973.4" cy="638.4" r="15" fill="url(#mP)"/><circle cx="1070.3" cy="561.2" r="15" fill="url(#mB)"/><circle cx="1070.3" cy="638.4" r="15" fill="url(#mP)"/><circle cx="1169.1" cy="561.2" r="15" fill="url(#mB)"/><circle cx="1169.1" cy="638.4" r="15" fill="url(#mP)"/><rect x="941.6" y="382.8" width="258.8" height="304.8" fill="none" stroke="#2a3cb0" stroke-width="1.2"/><g fill="#22ee22"><rect x="939.2" y="67.2" width="1.9" height="621.6"/><rect x="1200.6" y="67.2" width="1.9" height="621.6"/><rect x="939.2" y="67.2" width="263.3" height="1.8"/><rect x="939.2" y="687.6" width="263.3" height="1.4"/></g><rect x="941" y="374.9" width="260" height="0.8" fill="#66ee44"/><rect x="941" y="381.3" width="260" height="0.8" fill="#66ee44"/><rect x="1213" y="526.3" width="13" height="160" fill="url(#cbar)"/><line x1="1226" y1="526.3" x2="1230" y2="526.3" stroke="#000" stroke-width="1"/><line x1="1226" y1="546.3" x2="1230" y2="546.3" stroke="#000" stroke-width="1"/><line x1="1226" y1="566.3" x2="1230" y2="566.3" stroke="#000" stroke-width="1"/><line x1="1226" y1="586.3" x2="1230" y2="586.3" stroke="#000" stroke-width="1"/><line x1="1226" y1="606.3" x2="1230" y2="606.3" stroke="#000" stroke-width="1"/><line x1="1226" y1="626.3" x2="1230" y2="626.3" stroke="#000" stroke-width="1"/><line x1="1226" y1="646.3" x2="1230" y2="646.3" stroke="#000" stroke-width="1"/><line x1="1226" y1="666.3" x2="1230" y2="666.3" stroke="#000" stroke-width="1"/><line x1="1226" y1="686.3" x2="1230" y2="686.3" stroke="#000" stroke-width="1"/><text x="1232.5" y="531" font-family='"Liberation Serif", serif' font-weight='bold' font-size='14'>0.05</text><text x="1242" y="611.5" font-family='"Liberation Serif", serif' font-weight='bold' font-size='14'>0</text><text x="1229.5" y="692" font-family='"Liberation Serif", serif' font-weight='bold' font-size='14'>-0.05</text>
</svg>
</body></html>
